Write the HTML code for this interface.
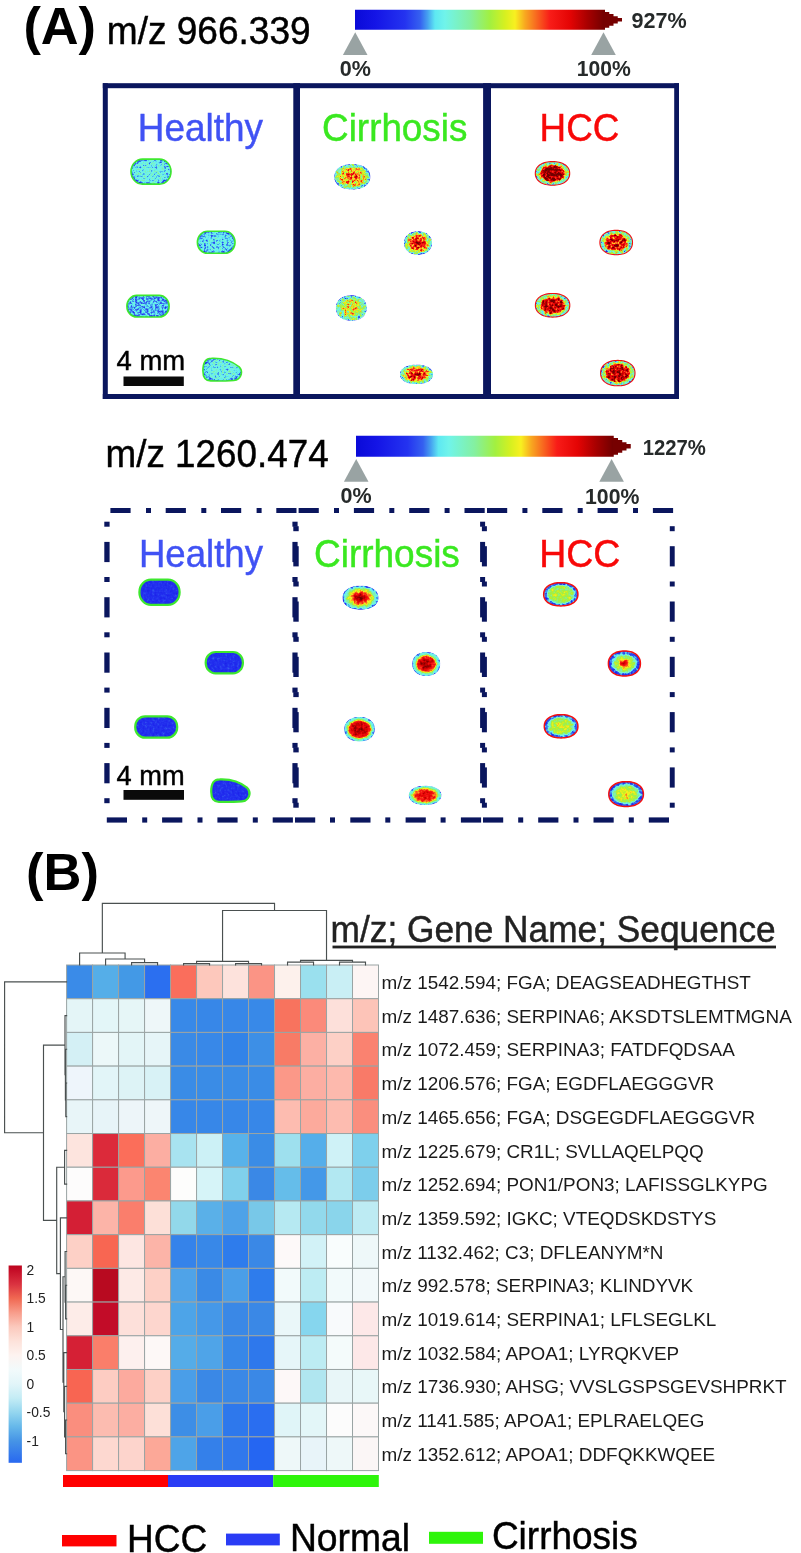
<!DOCTYPE html>
<html><head><meta charset="utf-8"><title>Figure</title>
<style>
html,body{margin:0;padding:0;background:#fff;}
body{width:801px;height:1553px;overflow:hidden;}
svg{display:block;}
text{font-family:"Liberation Sans", Arial, sans-serif;}
</style></head><body>
<svg width="801" height="1553" viewBox="0 0 801 1553">
<defs><linearGradient id="jet" x1="0" y1="0" x2="1" y2="0"><stop offset="0.0%" stop-color="#0a0ad8"/><stop offset="8.0%" stop-color="#1414e6"/><stop offset="20.0%" stop-color="#2433f0"/><stop offset="26.0%" stop-color="#3560f0"/><stop offset="29.0%" stop-color="#45a0f0"/><stop offset="32.0%" stop-color="#5ee8f2"/><stop offset="36.0%" stop-color="#70f4ea"/><stop offset="46.0%" stop-color="#84f0a0"/><stop offset="54.0%" stop-color="#a2f040"/><stop offset="60.0%" stop-color="#d6f020"/><stop offset="64.0%" stop-color="#f8f020"/><stop offset="68.0%" stop-color="#f8a820"/><stop offset="72.0%" stop-color="#f87020"/><stop offset="78.0%" stop-color="#f81c18"/><stop offset="86.0%" stop-color="#e40404"/><stop offset="93.0%" stop-color="#a80000"/><stop offset="100.0%" stop-color="#700000"/></linearGradient><linearGradient id="leg" x1="0" y1="0" x2="0" y2="1"><stop offset="0.0%" stop-color="#bc061e"/><stop offset="2.2%" stop-color="#c40c26"/><stop offset="9.4%" stop-color="#da3240"/><stop offset="16.6%" stop-color="#f06852"/><stop offset="23.8%" stop-color="#f89c8a"/><stop offset="31.1%" stop-color="#fbc9bd"/><stop offset="38.3%" stop-color="#fde2da"/><stop offset="45.5%" stop-color="#fdf3f0"/><stop offset="52.7%" stop-color="#f2fafb"/><stop offset="60.0%" stop-color="#e2f5f9"/><stop offset="67.2%" stop-color="#c4ecf5"/><stop offset="74.4%" stop-color="#94d6ef"/><stop offset="81.6%" stop-color="#66b8ea"/><stop offset="88.9%" stop-color="#4694e6"/><stop offset="100.0%" stop-color="#2868f0"/></linearGradient><filter id="fA" x="-10%" y="-10%" width="120%" height="120%" color-interpolation-filters="sRGB"><feTurbulence type="fractalNoise" baseFrequency="0.45" numOctaves="2" seed="11" result="t"/><feColorMatrix in="t" type="matrix" values="1 0 0 0 0 1 0 0 0 0 1 0 0 0 0 0 0 0 0 1" result="n"/><feComposite in="SourceGraphic" in2="n" operator="arithmetic" k1="0" k2="1" k3="0.34" k4="-0.170" result="v"/><feComponentTransfer in="v" result="c"><feFuncR type="table" tableValues="0.039 0.047 0.055 0.062 0.070 0.078 0.086 0.094 0.102 0.110 0.118 0.126 0.135 0.145 0.166 0.190 0.222 0.248 0.263 0.293 0.344 0.383 0.411 0.438 0.451 0.463 0.475 0.488 0.500 0.512 0.531 0.553 0.576 0.599 0.622 0.659 0.712 0.765 0.818 0.870 0.923 0.973 0.973 0.973 0.973 0.973 0.973 0.973 0.973 0.973 0.971 0.956 0.941 0.925 0.910 0.895 0.844 0.791 0.739 0.686 0.635 0.586 0.537 0.488 0.439"/><feFuncG type="table" tableValues="0.039 0.047 0.055 0.062 0.070 0.078 0.092 0.108 0.124 0.140 0.156 0.172 0.187 0.210 0.261 0.319 0.392 0.475 0.573 0.692 0.839 0.919 0.938 0.956 0.955 0.952 0.950 0.947 0.945 0.942 0.941 0.941 0.941 0.941 0.941 0.941 0.941 0.941 0.941 0.941 0.941 0.937 0.826 0.716 0.618 0.532 0.446 0.360 0.275 0.189 0.108 0.090 0.072 0.053 0.035 0.016 0.012 0.009 0.005 0.002 0.000 0.000 0.000 0.000 0.000"/><feFuncB type="table" tableValues="0.847 0.858 0.869 0.879 0.890 0.901 0.906 0.912 0.917 0.922 0.927 0.932 0.937 0.941 0.941 0.941 0.941 0.941 0.941 0.943 0.947 0.943 0.930 0.918 0.874 0.829 0.783 0.738 0.693 0.647 0.586 0.513 0.439 0.366 0.292 0.237 0.204 0.171 0.139 0.125 0.125 0.125 0.125 0.125 0.125 0.125 0.125 0.118 0.110 0.102 0.093 0.078 0.062 0.047 0.032 0.016 0.012 0.009 0.005 0.002 0.000 0.000 0.000 0.000 0.000"/><feFuncA type="identity"/></feComponentTransfer><feComposite in="c" in2="SourceAlpha" operator="in"/></filter><filter id="fB" x="-10%" y="-10%" width="120%" height="120%" color-interpolation-filters="sRGB"><feTurbulence type="fractalNoise" baseFrequency="0.38" numOctaves="2" seed="5" result="t"/><feColorMatrix in="t" type="matrix" values="1 0 0 0 0 1 0 0 0 0 1 0 0 0 0 0 0 0 0 1" result="n"/><feComposite in="SourceGraphic" in2="n" operator="arithmetic" k1="0" k2="1" k3="0.72" k4="-0.360" result="v"/><feComponentTransfer in="v" result="c"><feFuncR type="table" tableValues="0.039 0.047 0.055 0.062 0.070 0.078 0.086 0.094 0.102 0.110 0.118 0.126 0.135 0.145 0.166 0.190 0.222 0.248 0.263 0.293 0.344 0.383 0.411 0.438 0.451 0.463 0.475 0.488 0.500 0.512 0.531 0.553 0.576 0.599 0.622 0.659 0.712 0.765 0.818 0.870 0.923 0.973 0.973 0.973 0.973 0.973 0.973 0.973 0.973 0.973 0.971 0.956 0.941 0.925 0.910 0.895 0.844 0.791 0.739 0.686 0.635 0.586 0.537 0.488 0.439"/><feFuncG type="table" tableValues="0.039 0.047 0.055 0.062 0.070 0.078 0.092 0.108 0.124 0.140 0.156 0.172 0.187 0.210 0.261 0.319 0.392 0.475 0.573 0.692 0.839 0.919 0.938 0.956 0.955 0.952 0.950 0.947 0.945 0.942 0.941 0.941 0.941 0.941 0.941 0.941 0.941 0.941 0.941 0.941 0.941 0.937 0.826 0.716 0.618 0.532 0.446 0.360 0.275 0.189 0.108 0.090 0.072 0.053 0.035 0.016 0.012 0.009 0.005 0.002 0.000 0.000 0.000 0.000 0.000"/><feFuncB type="table" tableValues="0.847 0.858 0.869 0.879 0.890 0.901 0.906 0.912 0.917 0.922 0.927 0.932 0.937 0.941 0.941 0.941 0.941 0.941 0.941 0.943 0.947 0.943 0.930 0.918 0.874 0.829 0.783 0.738 0.693 0.647 0.586 0.513 0.439 0.366 0.292 0.237 0.204 0.171 0.139 0.125 0.125 0.125 0.125 0.125 0.125 0.125 0.125 0.118 0.110 0.102 0.093 0.078 0.062 0.047 0.032 0.016 0.012 0.009 0.005 0.002 0.000 0.000 0.000 0.000 0.000"/><feFuncA type="identity"/></feComponentTransfer><feComposite in="c" in2="SourceAlpha" operator="in"/></filter><filter id="fC" x="-10%" y="-10%" width="120%" height="120%" color-interpolation-filters="sRGB"><feTurbulence type="fractalNoise" baseFrequency="0.4" numOctaves="2" seed="3" result="t"/><feColorMatrix in="t" type="matrix" values="1 0 0 0 0 1 0 0 0 0 1 0 0 0 0 0 0 0 0 1" result="n"/><feComposite in="SourceGraphic" in2="n" operator="arithmetic" k1="0" k2="1" k3="0.15" k4="-0.075" result="v"/><feComponentTransfer in="v" result="c"><feFuncR type="table" tableValues="0.039 0.047 0.055 0.062 0.070 0.078 0.086 0.094 0.102 0.110 0.118 0.126 0.135 0.145 0.166 0.190 0.222 0.248 0.263 0.293 0.344 0.383 0.411 0.438 0.451 0.463 0.475 0.488 0.500 0.512 0.531 0.553 0.576 0.599 0.622 0.659 0.712 0.765 0.818 0.870 0.923 0.973 0.973 0.973 0.973 0.973 0.973 0.973 0.973 0.973 0.971 0.956 0.941 0.925 0.910 0.895 0.844 0.791 0.739 0.686 0.635 0.586 0.537 0.488 0.439"/><feFuncG type="table" tableValues="0.039 0.047 0.055 0.062 0.070 0.078 0.092 0.108 0.124 0.140 0.156 0.172 0.187 0.210 0.261 0.319 0.392 0.475 0.573 0.692 0.839 0.919 0.938 0.956 0.955 0.952 0.950 0.947 0.945 0.942 0.941 0.941 0.941 0.941 0.941 0.941 0.941 0.941 0.941 0.941 0.941 0.937 0.826 0.716 0.618 0.532 0.446 0.360 0.275 0.189 0.108 0.090 0.072 0.053 0.035 0.016 0.012 0.009 0.005 0.002 0.000 0.000 0.000 0.000 0.000"/><feFuncB type="table" tableValues="0.847 0.858 0.869 0.879 0.890 0.901 0.906 0.912 0.917 0.922 0.927 0.932 0.937 0.941 0.941 0.941 0.941 0.941 0.941 0.943 0.947 0.943 0.930 0.918 0.874 0.829 0.783 0.738 0.693 0.647 0.586 0.513 0.439 0.366 0.292 0.237 0.204 0.171 0.139 0.125 0.125 0.125 0.125 0.125 0.125 0.125 0.125 0.118 0.110 0.102 0.093 0.078 0.062 0.047 0.032 0.016 0.012 0.009 0.005 0.002 0.000 0.000 0.000 0.000 0.000"/><feFuncA type="identity"/></feComponentTransfer><feComposite in="c" in2="SourceAlpha" operator="in"/></filter><filter id="fD" x="-10%" y="-10%" width="120%" height="120%" color-interpolation-filters="sRGB"><feTurbulence type="fractalNoise" baseFrequency="0.35" numOctaves="2" seed="8" result="t"/><feColorMatrix in="t" type="matrix" values="1 0 0 0 0 1 0 0 0 0 1 0 0 0 0 0 0 0 0 1" result="n"/><feComposite in="SourceGraphic" in2="n" operator="arithmetic" k1="0" k2="1" k3="0.32" k4="-0.160" result="v"/><feComponentTransfer in="v" result="c"><feFuncR type="table" tableValues="0.039 0.047 0.055 0.062 0.070 0.078 0.086 0.094 0.102 0.110 0.118 0.126 0.135 0.145 0.166 0.190 0.222 0.248 0.263 0.293 0.344 0.383 0.411 0.438 0.451 0.463 0.475 0.488 0.500 0.512 0.531 0.553 0.576 0.599 0.622 0.659 0.712 0.765 0.818 0.870 0.923 0.973 0.973 0.973 0.973 0.973 0.973 0.973 0.973 0.973 0.971 0.956 0.941 0.925 0.910 0.895 0.844 0.791 0.739 0.686 0.635 0.586 0.537 0.488 0.439"/><feFuncG type="table" tableValues="0.039 0.047 0.055 0.062 0.070 0.078 0.092 0.108 0.124 0.140 0.156 0.172 0.187 0.210 0.261 0.319 0.392 0.475 0.573 0.692 0.839 0.919 0.938 0.956 0.955 0.952 0.950 0.947 0.945 0.942 0.941 0.941 0.941 0.941 0.941 0.941 0.941 0.941 0.941 0.941 0.941 0.937 0.826 0.716 0.618 0.532 0.446 0.360 0.275 0.189 0.108 0.090 0.072 0.053 0.035 0.016 0.012 0.009 0.005 0.002 0.000 0.000 0.000 0.000 0.000"/><feFuncB type="table" tableValues="0.847 0.858 0.869 0.879 0.890 0.901 0.906 0.912 0.917 0.922 0.927 0.932 0.937 0.941 0.941 0.941 0.941 0.941 0.941 0.943 0.947 0.943 0.930 0.918 0.874 0.829 0.783 0.738 0.693 0.647 0.586 0.513 0.439 0.366 0.292 0.237 0.204 0.171 0.139 0.125 0.125 0.125 0.125 0.125 0.125 0.125 0.125 0.118 0.110 0.102 0.093 0.078 0.062 0.047 0.032 0.016 0.012 0.009 0.005 0.002 0.000 0.000 0.000 0.000 0.000"/><feFuncA type="identity"/></feComponentTransfer><feComposite in="c" in2="SourceAlpha" operator="in"/></filter><radialGradient id="g1" cx="50%" cy="50%" r="50%"><stop offset="0%" stop-color="rgb(92,92,92)"/><stop offset="70%" stop-color="rgb(91,91,91)"/><stop offset="88%" stop-color="rgb(87,87,87)"/><stop offset="96%" stop-color="rgb(76,76,76)"/><stop offset="100%" stop-color="rgb(71,71,71)"/></radialGradient><radialGradient id="g2" cx="50%" cy="50%" r="50%"><stop offset="0%" stop-color="rgb(85,85,85)"/><stop offset="70%" stop-color="rgb(84,84,84)"/><stop offset="88%" stop-color="rgb(82,82,82)"/><stop offset="96%" stop-color="rgb(74,74,74)"/><stop offset="100%" stop-color="rgb(69,69,69)"/></radialGradient><radialGradient id="g3" cx="50%" cy="50%" r="50%"><stop offset="0%" stop-color="rgb(76,76,76)"/><stop offset="70%" stop-color="rgb(76,76,76)"/><stop offset="88%" stop-color="rgb(75,75,75)"/><stop offset="96%" stop-color="rgb(69,69,69)"/><stop offset="100%" stop-color="rgb(66,66,66)"/></radialGradient><radialGradient id="g4" cx="50%" cy="50%" r="50%"><stop offset="0%" stop-color="rgb(92,92,92)"/><stop offset="70%" stop-color="rgb(91,91,91)"/><stop offset="88%" stop-color="rgb(87,87,87)"/><stop offset="96%" stop-color="rgb(76,76,76)"/><stop offset="100%" stop-color="rgb(71,71,71)"/></radialGradient><radialGradient id="g5" cx="50%" cy="50%" r="50%"><stop offset="0%" stop-color="rgb(184,184,184)"/><stop offset="40%" stop-color="rgb(178,178,178)"/><stop offset="65%" stop-color="rgb(158,158,158)"/><stop offset="82%" stop-color="rgb(128,128,128)"/><stop offset="93%" stop-color="rgb(107,107,107)"/><stop offset="100%" stop-color="rgb(92,92,92)"/></radialGradient><radialGradient id="g6" cx="50%" cy="50%" r="50%"><stop offset="0%" stop-color="rgb(219,219,219)"/><stop offset="35%" stop-color="rgb(209,209,209)"/><stop offset="60%" stop-color="rgb(184,184,184)"/><stop offset="78%" stop-color="rgb(140,140,140)"/><stop offset="90%" stop-color="rgb(112,112,112)"/><stop offset="100%" stop-color="rgb(92,92,92)"/></radialGradient><radialGradient id="g7" cx="50%" cy="50%" r="50%"><stop offset="0%" stop-color="rgb(158,158,158)"/><stop offset="45%" stop-color="rgb(153,153,153)"/><stop offset="72%" stop-color="rgb(128,128,128)"/><stop offset="90%" stop-color="rgb(107,107,107)"/><stop offset="100%" stop-color="rgb(92,92,92)"/></radialGradient><radialGradient id="g8" cx="50%" cy="50%" r="50%"><stop offset="0%" stop-color="rgb(219,219,219)"/><stop offset="35%" stop-color="rgb(209,209,209)"/><stop offset="60%" stop-color="rgb(184,184,184)"/><stop offset="78%" stop-color="rgb(140,140,140)"/><stop offset="90%" stop-color="rgb(112,112,112)"/><stop offset="100%" stop-color="rgb(92,92,92)"/></radialGradient><radialGradient id="g9" cx="50%" cy="50%" r="50%"><stop offset="0%" stop-color="rgb(247,247,247)"/><stop offset="55%" stop-color="rgb(242,242,242)"/><stop offset="66%" stop-color="rgb(217,217,217)"/><stop offset="74%" stop-color="rgb(148,148,148)"/><stop offset="86%" stop-color="rgb(117,117,117)"/><stop offset="100%" stop-color="rgb(102,102,102)"/></radialGradient><radialGradient id="g10" cx="50%" cy="50%" r="50%"><stop offset="0%" stop-color="rgb(204,204,204)"/><stop offset="25%" stop-color="rgb(214,214,214)"/><stop offset="55%" stop-color="rgb(214,214,214)"/><stop offset="68%" stop-color="rgb(178,178,178)"/><stop offset="78%" stop-color="rgb(128,128,128)"/><stop offset="90%" stop-color="rgb(107,107,107)"/><stop offset="100%" stop-color="rgb(97,97,97)"/></radialGradient><radialGradient id="g11" cx="50%" cy="50%" r="50%"><stop offset="0%" stop-color="rgb(230,230,230)"/><stop offset="55%" stop-color="rgb(224,224,224)"/><stop offset="68%" stop-color="rgb(199,199,199)"/><stop offset="76%" stop-color="rgb(140,140,140)"/><stop offset="90%" stop-color="rgb(112,112,112)"/><stop offset="100%" stop-color="rgb(97,97,97)"/></radialGradient><radialGradient id="g12" cx="50%" cy="50%" r="50%"><stop offset="0%" stop-color="rgb(230,230,230)"/><stop offset="55%" stop-color="rgb(224,224,224)"/><stop offset="68%" stop-color="rgb(199,199,199)"/><stop offset="76%" stop-color="rgb(140,140,140)"/><stop offset="90%" stop-color="rgb(112,112,112)"/><stop offset="100%" stop-color="rgb(97,97,97)"/></radialGradient><radialGradient id="g13" cx="50%" cy="50%" r="50%"><stop offset="0%" stop-color="rgb(48,48,48)"/><stop offset="85%" stop-color="rgb(48,48,48)"/><stop offset="100%" stop-color="rgb(46,46,46)"/></radialGradient><radialGradient id="g14" cx="50%" cy="50%" r="50%"><stop offset="0%" stop-color="rgb(48,48,48)"/><stop offset="85%" stop-color="rgb(48,48,48)"/><stop offset="100%" stop-color="rgb(46,46,46)"/></radialGradient><radialGradient id="g15" cx="50%" cy="50%" r="50%"><stop offset="0%" stop-color="rgb(48,48,48)"/><stop offset="85%" stop-color="rgb(48,48,48)"/><stop offset="100%" stop-color="rgb(46,46,46)"/></radialGradient><radialGradient id="g16" cx="50%" cy="50%" r="50%"><stop offset="0%" stop-color="rgb(48,48,48)"/><stop offset="85%" stop-color="rgb(48,48,48)"/><stop offset="100%" stop-color="rgb(46,46,46)"/></radialGradient><radialGradient id="g17" cx="50%" cy="50%" r="50%"><stop offset="0%" stop-color="rgb(245,245,245)"/><stop offset="25%" stop-color="rgb(230,230,230)"/><stop offset="45%" stop-color="rgb(189,189,189)"/><stop offset="62%" stop-color="rgb(158,158,158)"/><stop offset="75%" stop-color="rgb(128,128,128)"/><stop offset="86%" stop-color="rgb(97,97,97)"/><stop offset="95%" stop-color="rgb(76,76,76)"/><stop offset="100%" stop-color="rgb(66,66,66)"/></radialGradient><radialGradient id="g18" cx="50%" cy="50%" r="50%"><stop offset="0%" stop-color="rgb(240,240,240)"/><stop offset="40%" stop-color="rgb(224,224,224)"/><stop offset="60%" stop-color="rgb(199,199,199)"/><stop offset="72%" stop-color="rgb(153,153,153)"/><stop offset="82%" stop-color="rgb(107,107,107)"/><stop offset="92%" stop-color="rgb(92,92,92)"/><stop offset="100%" stop-color="rgb(76,76,76)"/></radialGradient><radialGradient id="g19" cx="50%" cy="50%" r="50%"><stop offset="0%" stop-color="rgb(235,235,235)"/><stop offset="50%" stop-color="rgb(224,224,224)"/><stop offset="68%" stop-color="rgb(194,194,194)"/><stop offset="78%" stop-color="rgb(143,143,143)"/><stop offset="86%" stop-color="rgb(102,102,102)"/><stop offset="95%" stop-color="rgb(87,87,87)"/><stop offset="100%" stop-color="rgb(76,76,76)"/></radialGradient><radialGradient id="g20" cx="50%" cy="50%" r="50%"><stop offset="0%" stop-color="rgb(219,219,219)"/><stop offset="50%" stop-color="rgb(204,204,204)"/><stop offset="70%" stop-color="rgb(173,173,173)"/><stop offset="82%" stop-color="rgb(122,122,122)"/><stop offset="92%" stop-color="rgb(97,97,97)"/><stop offset="100%" stop-color="rgb(82,82,82)"/></radialGradient><radialGradient id="g21" cx="50%" cy="50%" r="50%"><stop offset="0%" stop-color="rgb(140,140,140)"/><stop offset="60%" stop-color="rgb(138,138,138)"/><stop offset="74%" stop-color="rgb(122,122,122)"/><stop offset="80%" stop-color="rgb(92,92,92)"/><stop offset="86%" stop-color="rgb(66,66,66)"/><stop offset="96%" stop-color="rgb(61,61,61)"/><stop offset="100%" stop-color="rgb(76,76,76)"/></radialGradient><radialGradient id="g22" cx="50%" cy="50%" r="50%"><stop offset="0%" stop-color="rgb(235,235,235)"/><stop offset="15%" stop-color="rgb(209,209,209)"/><stop offset="30%" stop-color="rgb(168,168,168)"/><stop offset="45%" stop-color="rgb(143,143,143)"/><stop offset="62%" stop-color="rgb(128,128,128)"/><stop offset="72%" stop-color="rgb(97,97,97)"/><stop offset="80%" stop-color="rgb(66,66,66)"/><stop offset="95%" stop-color="rgb(56,56,56)"/><stop offset="100%" stop-color="rgb(71,71,71)"/></radialGradient><radialGradient id="g23" cx="50%" cy="50%" r="50%"><stop offset="0%" stop-color="rgb(153,153,153)"/><stop offset="40%" stop-color="rgb(145,145,145)"/><stop offset="65%" stop-color="rgb(133,133,133)"/><stop offset="76%" stop-color="rgb(102,102,102)"/><stop offset="84%" stop-color="rgb(71,71,71)"/><stop offset="96%" stop-color="rgb(61,61,61)"/><stop offset="100%" stop-color="rgb(76,76,76)"/></radialGradient><radialGradient id="g24" cx="50%" cy="50%" r="50%"><stop offset="0%" stop-color="rgb(161,161,161)"/><stop offset="35%" stop-color="rgb(153,153,153)"/><stop offset="60%" stop-color="rgb(138,138,138)"/><stop offset="74%" stop-color="rgb(107,107,107)"/><stop offset="82%" stop-color="rgb(71,71,71)"/><stop offset="96%" stop-color="rgb(56,56,56)"/><stop offset="100%" stop-color="rgb(71,71,71)"/></radialGradient></defs>
<rect x="355.00" y="9.75" width="250.00" height="20.00" fill="url(#jet)"/><polygon points="604.00,12.00 609.25,12.00 609.25,14.00 613.50,14.00 613.50,16.25 617.75,16.25 617.75,18.00 622.00,18.00 622.00,21.50 617.75,21.50 617.75,23.50 613.50,23.50 613.50,25.75 609.25,25.75 609.25,27.75 604.00,27.75" fill="#760000"/><polygon points="355.2,32.2 342.9,55.0 367.5,55.0" fill="#99a3a3"/><polygon points="603.5,32.2 591.2,55.0 615.8,55.0" fill="#99a3a3"/>
<rect x="356.00" y="435.75" width="257.75" height="21.00" fill="url(#jet)"/><polygon points="612.75,438.00 618.00,438.00 618.00,440.00 622.25,440.00 622.25,442.25 626.50,442.25 626.50,444.00 630.75,444.00 630.75,448.50 626.50,448.50 626.50,450.50 622.25,450.50 622.25,452.75 618.00,452.75 618.00,454.75 612.75,454.75" fill="#760000"/><polygon points="356.2,459.0 343.9,481.8 368.5,481.8" fill="#99a3a3"/><polygon points="611.6,459.0 599.3,481.8 623.9,481.8" fill="#99a3a3"/>
<rect x="102.80" y="83.20" width="576.20" height="5.00" fill="#0a165e"/><rect x="102.80" y="394.00" width="576.20" height="5.00" fill="#0a165e"/><rect x="102.80" y="83.20" width="5.00" height="315.80" fill="#0a165e"/><rect x="674.20" y="83.20" width="4.80" height="315.80" fill="#0a165e"/><rect x="293.30" y="83.20" width="6.70" height="315.80" fill="#0a165e"/><rect x="483.10" y="83.20" width="7.90" height="315.80" fill="#0a165e"/>
<rect x="110.40" y="508.00" width="20.20" height="5.00" fill="#0a165e"/><rect x="165.70" y="508.00" width="20.20" height="5.00" fill="#0a165e"/><rect x="221.00" y="508.00" width="20.20" height="5.00" fill="#0a165e"/><rect x="276.30" y="508.00" width="20.20" height="5.00" fill="#0a165e"/><rect x="146.00" y="508.00" width="5.00" height="5.00" fill="#0a165e"/><rect x="201.30" y="508.00" width="5.00" height="5.00" fill="#0a165e"/><rect x="256.60" y="508.00" width="5.00" height="5.00" fill="#0a165e"/><rect x="298.60" y="508.00" width="20.20" height="5.00" fill="#0a165e"/><rect x="353.90" y="508.00" width="20.20" height="5.00" fill="#0a165e"/><rect x="409.20" y="508.00" width="20.20" height="5.00" fill="#0a165e"/><rect x="464.50" y="508.00" width="20.20" height="5.00" fill="#0a165e"/><rect x="334.00" y="508.00" width="5.00" height="5.00" fill="#0a165e"/><rect x="389.30" y="508.00" width="5.00" height="5.00" fill="#0a165e"/><rect x="444.60" y="508.00" width="5.00" height="5.00" fill="#0a165e"/><rect x="487.00" y="508.00" width="20.20" height="5.00" fill="#0a165e"/><rect x="542.30" y="508.00" width="20.20" height="5.00" fill="#0a165e"/><rect x="597.60" y="508.00" width="20.20" height="5.00" fill="#0a165e"/><rect x="652.90" y="508.00" width="20.20" height="5.00" fill="#0a165e"/><rect x="522.40" y="508.00" width="5.00" height="5.00" fill="#0a165e"/><rect x="577.70" y="508.00" width="5.00" height="5.00" fill="#0a165e"/><rect x="633.00" y="508.00" width="5.00" height="5.00" fill="#0a165e"/><rect x="106.80" y="817.40" width="20.20" height="5.20" fill="#0a165e"/><rect x="162.10" y="817.40" width="20.20" height="5.20" fill="#0a165e"/><rect x="217.40" y="817.40" width="20.20" height="5.20" fill="#0a165e"/><rect x="272.70" y="817.40" width="20.20" height="5.20" fill="#0a165e"/><rect x="142.20" y="817.40" width="5.00" height="5.20" fill="#0a165e"/><rect x="197.50" y="817.40" width="5.00" height="5.20" fill="#0a165e"/><rect x="252.80" y="817.40" width="5.00" height="5.20" fill="#0a165e"/><rect x="295.00" y="817.40" width="20.20" height="5.20" fill="#0a165e"/><rect x="350.30" y="817.40" width="20.20" height="5.20" fill="#0a165e"/><rect x="405.60" y="817.40" width="20.20" height="5.20" fill="#0a165e"/><rect x="460.90" y="817.40" width="20.20" height="5.20" fill="#0a165e"/><rect x="330.00" y="817.40" width="5.00" height="5.20" fill="#0a165e"/><rect x="385.30" y="817.40" width="5.00" height="5.20" fill="#0a165e"/><rect x="440.60" y="817.40" width="5.00" height="5.20" fill="#0a165e"/><rect x="483.00" y="817.40" width="20.20" height="5.20" fill="#0a165e"/><rect x="538.20" y="817.40" width="20.20" height="5.20" fill="#0a165e"/><rect x="593.50" y="817.40" width="20.20" height="5.20" fill="#0a165e"/><rect x="648.80" y="817.40" width="20.20" height="5.20" fill="#0a165e"/><rect x="518.20" y="817.40" width="5.00" height="5.20" fill="#0a165e"/><rect x="573.50" y="817.40" width="5.00" height="5.20" fill="#0a165e"/><rect x="628.80" y="817.40" width="5.00" height="5.20" fill="#0a165e"/><rect x="104.30" y="541.90" width="5.30" height="20.20" fill="#0a165e"/><rect x="104.30" y="597.20" width="5.30" height="20.20" fill="#0a165e"/><rect x="104.30" y="652.50" width="5.30" height="20.20" fill="#0a165e"/><rect x="104.30" y="707.80" width="5.30" height="20.20" fill="#0a165e"/><rect x="104.30" y="763.10" width="5.30" height="20.20" fill="#0a165e"/><rect x="104.30" y="521.70" width="5.30" height="5.00" fill="#0a165e"/><rect x="104.30" y="577.00" width="5.30" height="5.00" fill="#0a165e"/><rect x="104.30" y="632.30" width="5.30" height="5.00" fill="#0a165e"/><rect x="104.30" y="687.60" width="5.30" height="5.00" fill="#0a165e"/><rect x="104.30" y="742.90" width="5.30" height="5.00" fill="#0a165e"/><rect x="104.30" y="798.20" width="5.30" height="5.00" fill="#0a165e"/><rect x="292.40" y="541.90" width="5.20" height="20.20" fill="#0a165e"/><rect x="292.40" y="597.20" width="5.20" height="20.20" fill="#0a165e"/><rect x="292.40" y="652.50" width="5.20" height="20.20" fill="#0a165e"/><rect x="292.40" y="707.80" width="5.20" height="20.20" fill="#0a165e"/><rect x="292.40" y="763.10" width="5.20" height="20.20" fill="#0a165e"/><rect x="292.40" y="521.70" width="5.20" height="5.00" fill="#0a165e"/><rect x="292.40" y="577.00" width="5.20" height="5.00" fill="#0a165e"/><rect x="292.40" y="632.30" width="5.20" height="5.00" fill="#0a165e"/><rect x="292.40" y="687.60" width="5.20" height="5.00" fill="#0a165e"/><rect x="292.40" y="742.90" width="5.20" height="5.00" fill="#0a165e"/><rect x="292.40" y="798.20" width="5.20" height="5.00" fill="#0a165e"/><rect x="293.30" y="546.20" width="5.40" height="20.20" fill="#0a165e"/><rect x="293.30" y="601.50" width="5.40" height="20.20" fill="#0a165e"/><rect x="293.30" y="656.80" width="5.40" height="20.20" fill="#0a165e"/><rect x="293.30" y="712.10" width="5.40" height="20.20" fill="#0a165e"/><rect x="293.30" y="767.40" width="5.40" height="20.20" fill="#0a165e"/><rect x="293.30" y="526.20" width="5.40" height="5.00" fill="#0a165e"/><rect x="293.30" y="581.50" width="5.40" height="5.00" fill="#0a165e"/><rect x="293.30" y="636.80" width="5.40" height="5.00" fill="#0a165e"/><rect x="293.30" y="692.10" width="5.40" height="5.00" fill="#0a165e"/><rect x="293.30" y="747.40" width="5.40" height="5.00" fill="#0a165e"/><rect x="293.30" y="802.70" width="5.40" height="5.00" fill="#0a165e"/><rect x="480.10" y="541.90" width="5.00" height="20.20" fill="#0a165e"/><rect x="480.10" y="597.20" width="5.00" height="20.20" fill="#0a165e"/><rect x="480.10" y="652.50" width="5.00" height="20.20" fill="#0a165e"/><rect x="480.10" y="707.80" width="5.00" height="20.20" fill="#0a165e"/><rect x="480.10" y="763.10" width="5.00" height="20.20" fill="#0a165e"/><rect x="480.10" y="521.70" width="5.00" height="5.00" fill="#0a165e"/><rect x="480.10" y="577.00" width="5.00" height="5.00" fill="#0a165e"/><rect x="480.10" y="632.30" width="5.00" height="5.00" fill="#0a165e"/><rect x="480.10" y="687.60" width="5.00" height="5.00" fill="#0a165e"/><rect x="480.10" y="742.90" width="5.00" height="5.00" fill="#0a165e"/><rect x="480.10" y="798.20" width="5.00" height="5.00" fill="#0a165e"/><rect x="481.90" y="546.20" width="5.00" height="20.20" fill="#0a165e"/><rect x="481.90" y="601.50" width="5.00" height="20.20" fill="#0a165e"/><rect x="481.90" y="656.80" width="5.00" height="20.20" fill="#0a165e"/><rect x="481.90" y="712.10" width="5.00" height="20.20" fill="#0a165e"/><rect x="481.90" y="767.40" width="5.00" height="20.20" fill="#0a165e"/><rect x="481.90" y="526.20" width="5.00" height="5.00" fill="#0a165e"/><rect x="481.90" y="581.50" width="5.00" height="5.00" fill="#0a165e"/><rect x="481.90" y="636.80" width="5.00" height="5.00" fill="#0a165e"/><rect x="481.90" y="692.10" width="5.00" height="5.00" fill="#0a165e"/><rect x="481.90" y="747.40" width="5.00" height="5.00" fill="#0a165e"/><rect x="481.90" y="802.70" width="5.00" height="5.00" fill="#0a165e"/><rect x="669.80" y="546.20" width="4.90" height="20.20" fill="#0a165e"/><rect x="669.80" y="601.50" width="4.90" height="20.20" fill="#0a165e"/><rect x="669.80" y="656.80" width="4.90" height="20.20" fill="#0a165e"/><rect x="669.80" y="712.10" width="4.90" height="20.20" fill="#0a165e"/><rect x="669.80" y="767.40" width="4.90" height="20.20" fill="#0a165e"/><rect x="669.80" y="526.20" width="4.90" height="5.00" fill="#0a165e"/><rect x="669.80" y="581.50" width="4.90" height="5.00" fill="#0a165e"/><rect x="669.80" y="636.80" width="4.90" height="5.00" fill="#0a165e"/><rect x="669.80" y="692.10" width="4.90" height="5.00" fill="#0a165e"/><rect x="669.80" y="747.40" width="4.90" height="5.00" fill="#0a165e"/><rect x="669.80" y="802.70" width="4.90" height="5.00" fill="#0a165e"/>
<rect x="123.50" y="376.50" width="60.30" height="9.50" fill="#0a0a0a"/>
<rect x="123.50" y="790.00" width="60.50" height="9.80" fill="#0a0a0a"/>
<rect x="131.00" y="159.10" width="40.00" height="25.00" rx="11.50" ry="12.25" fill="url(#g1)" filter="url(#fA)"/>
<rect x="131.00" y="159.10" width="40.00" height="25.00" rx="11.50" ry="12.25" fill="none" stroke="#3ee82e" stroke-width="1.6"/>
<rect x="197.40" y="231.30" width="37.60" height="22.00" rx="10.12" ry="10.78" fill="url(#g2)" filter="url(#fA)"/>
<rect x="197.40" y="231.30" width="37.60" height="22.00" rx="10.12" ry="10.78" fill="none" stroke="#3ee82e" stroke-width="1.6"/>
<rect x="126.90" y="295.40" width="42.20" height="21.60" rx="9.94" ry="10.58" fill="url(#g3)" filter="url(#fA)"/>
<rect x="126.90" y="295.40" width="42.20" height="21.60" rx="9.94" ry="10.58" fill="none" stroke="#3ee82e" stroke-width="1.6"/>
<path d="M211.48,358.30 C222.40,357.85 232.15,361.01 239.17,366.89 C243.07,370.73 241.90,377.51 236.44,380.00 C230.20,381.35 220.45,380.90 210.70,380.90 C205.24,380.90 202.90,377.51 202.90,370.73 C202.90,362.82 204.85,358.30 211.48,358.30Z" fill="url(#g4)" filter="url(#fA)"/>
<path d="M211.48,358.30 C222.40,357.85 232.15,361.01 239.17,366.89 C243.07,370.73 241.90,377.51 236.44,380.00 C230.20,381.35 220.45,380.90 210.70,380.90 C205.24,380.90 202.90,377.51 202.90,370.73 C202.90,362.82 204.85,358.30 211.48,358.30Z" fill="none" stroke="#3ee82e" stroke-width="1.6"/>
<polygon points="370.30,176.80 370.24,178.18 370.05,179.39 369.74,180.52 369.31,181.59 368.76,182.60 368.09,183.56 367.31,184.46 366.43,185.30 365.44,186.07 364.34,186.77 363.16,187.39 361.89,187.94 360.53,188.41 359.09,188.80 357.57,189.11 355.96,189.32 354.26,189.46 352.30,189.50 350.34,189.46 348.64,189.32 347.03,189.11 345.51,188.80 344.07,188.41 342.71,187.94 341.44,187.39 340.26,186.77 339.16,186.07 338.17,185.30 337.29,184.46 336.51,183.56 335.84,182.60 335.29,181.59 334.86,180.52 334.55,179.39 334.36,178.18 334.30,176.80 334.36,175.42 334.55,174.21 334.86,173.08 335.29,172.01 335.84,171.00 336.51,170.04 337.29,169.14 338.17,168.30 339.16,167.53 340.26,166.83 341.44,166.21 342.71,165.66 344.07,165.19 345.51,164.80 347.03,164.49 348.64,164.28 350.34,164.14 352.30,164.10 354.26,164.14 355.96,164.28 357.57,164.49 359.09,164.80 360.53,165.19 361.89,165.66 363.16,166.21 364.34,166.83 365.44,167.53 366.43,168.30 367.31,169.14 368.09,170.04 368.76,171.00 369.31,172.01 369.74,173.08 370.05,174.21 370.24,175.42" fill="url(#g5)" filter="url(#fB)"/>
<polygon points="431.90,243.00 431.85,244.27 431.71,245.38 431.47,246.42 431.14,247.41 430.71,248.35 430.20,249.23 429.59,250.06 428.91,250.83 428.14,251.54 427.30,252.18 426.39,252.76 425.40,253.27 424.35,253.70 423.24,254.06 422.07,254.34 420.83,254.54 419.51,254.66 418.00,254.70 416.49,254.66 415.17,254.54 413.93,254.34 412.76,254.06 411.65,253.70 410.60,253.27 409.61,252.76 408.70,252.18 407.86,251.54 407.09,250.83 406.41,250.06 405.80,249.23 405.29,248.35 404.86,247.41 404.53,246.42 404.29,245.38 404.15,244.27 404.10,243.00 404.15,241.73 404.29,240.62 404.53,239.58 404.86,238.59 405.29,237.65 405.80,236.77 406.41,235.94 407.09,235.17 407.86,234.46 408.70,233.82 409.61,233.24 410.60,232.73 411.65,232.30 412.76,231.94 413.93,231.66 415.17,231.46 416.49,231.34 418.00,231.30 419.51,231.34 420.83,231.46 422.07,231.66 423.24,231.94 424.35,232.30 425.40,232.73 426.39,233.24 427.30,233.82 428.14,234.46 428.91,235.17 429.59,235.94 430.20,236.77 430.71,237.65 431.14,238.59 431.47,239.58 431.71,240.62 431.85,241.73" fill="url(#g6)" filter="url(#fB)"/>
<polygon points="366.70,308.00 366.65,309.38 366.49,310.59 366.22,311.72 365.85,312.79 365.38,313.80 364.81,314.76 364.15,315.66 363.39,316.50 362.54,317.27 361.60,317.97 360.59,318.59 359.50,319.14 358.34,319.61 357.11,320.00 355.81,320.31 354.44,320.52 352.98,320.66 351.30,320.70 349.62,320.66 348.16,320.52 346.79,320.31 345.49,320.00 344.26,319.61 343.10,319.14 342.01,318.59 341.00,317.97 340.06,317.27 339.21,316.50 338.45,315.66 337.79,314.76 337.22,313.80 336.75,312.79 336.38,311.72 336.11,310.59 335.95,309.38 335.90,308.00 335.95,306.62 336.11,305.41 336.38,304.28 336.75,303.21 337.22,302.20 337.79,301.24 338.45,300.34 339.21,299.50 340.06,298.73 341.00,298.03 342.01,297.41 343.10,296.86 344.26,296.39 345.49,296.00 346.79,295.69 348.16,295.48 349.62,295.34 351.30,295.30 352.98,295.34 354.44,295.48 355.81,295.69 357.11,296.00 358.34,296.39 359.50,296.86 360.59,297.41 361.60,298.03 362.54,298.73 363.39,299.50 364.15,300.34 364.81,301.24 365.38,302.20 365.85,303.21 366.22,304.28 366.49,305.41 366.65,306.62" fill="url(#g7)" filter="url(#fB)"/>
<polygon points="433.00,374.40 432.94,375.46 432.77,376.37 432.49,377.24 432.09,378.06 431.59,378.83 430.98,379.57 430.26,380.25 429.45,380.89 428.54,381.48 427.54,382.01 426.45,382.49 425.29,382.91 424.04,383.27 422.72,383.57 421.33,383.80 419.86,383.97 418.30,384.07 416.50,384.10 414.70,384.07 413.14,383.97 411.67,383.80 410.28,383.57 408.96,383.27 407.71,382.91 406.55,382.49 405.46,382.01 404.46,381.48 403.55,380.89 402.74,380.25 402.02,379.57 401.41,378.83 400.91,378.06 400.51,377.24 400.23,376.37 400.06,375.46 400.00,374.40 400.06,373.34 400.23,372.43 400.51,371.56 400.91,370.74 401.41,369.97 402.02,369.23 402.74,368.55 403.55,367.91 404.46,367.32 405.46,366.79 406.55,366.31 407.71,365.89 408.96,365.53 410.28,365.23 411.67,365.00 413.14,364.83 414.70,364.73 416.50,364.70 418.30,364.73 419.86,364.83 421.33,365.00 422.72,365.23 424.04,365.53 425.29,365.89 426.45,366.31 427.54,366.79 428.54,367.32 429.45,367.91 430.26,368.55 430.98,369.23 431.59,369.97 432.09,370.74 432.49,371.56 432.77,372.43 432.94,373.34" fill="url(#g8)" filter="url(#fB)"/>
<polygon points="569.70,173.40 569.64,174.68 569.46,175.80 569.17,176.85 568.75,177.85 568.23,178.79 567.59,179.68 566.85,180.52 566.00,181.30 565.05,182.01 564.01,182.66 562.88,183.24 561.66,183.75 560.36,184.19 558.99,184.55 557.53,184.83 556.00,185.04 554.37,185.16 552.50,185.20 550.63,185.16 549.00,185.04 547.47,184.83 546.01,184.55 544.64,184.19 543.34,183.75 542.12,183.24 540.99,182.66 539.95,182.01 539.00,181.30 538.15,180.52 537.41,179.68 536.77,178.79 536.25,177.85 535.83,176.85 535.54,175.80 535.36,174.68 535.30,173.40 535.36,172.12 535.54,171.00 535.83,169.95 536.25,168.95 536.77,168.01 537.41,167.12 538.15,166.28 539.00,165.50 539.95,164.79 540.99,164.14 542.12,163.56 543.34,163.05 544.64,162.61 546.01,162.25 547.47,161.97 549.00,161.76 550.63,161.64 552.50,161.60 554.37,161.64 556.00,161.76 557.53,161.97 558.99,162.25 560.36,162.61 561.66,163.05 562.88,163.56 564.01,164.14 565.05,164.79 566.00,165.50 566.85,166.28 567.59,167.12 568.23,168.01 568.75,168.95 569.17,169.95 569.46,171.00 569.64,172.12" fill="url(#g9)" filter="url(#fB)"/>
<polygon points="569.70,173.40 569.64,174.68 569.46,175.80 569.17,176.85 568.75,177.85 568.23,178.79 567.59,179.68 566.85,180.52 566.00,181.30 565.05,182.01 564.01,182.66 562.88,183.24 561.66,183.75 560.36,184.19 558.99,184.55 557.53,184.83 556.00,185.04 554.37,185.16 552.50,185.20 550.63,185.16 549.00,185.04 547.47,184.83 546.01,184.55 544.64,184.19 543.34,183.75 542.12,183.24 540.99,182.66 539.95,182.01 539.00,181.30 538.15,180.52 537.41,179.68 536.77,178.79 536.25,177.85 535.83,176.85 535.54,175.80 535.36,174.68 535.30,173.40 535.36,172.12 535.54,171.00 535.83,169.95 536.25,168.95 536.77,168.01 537.41,167.12 538.15,166.28 539.00,165.50 539.95,164.79 540.99,164.14 542.12,163.56 543.34,163.05 544.64,162.61 546.01,162.25 547.47,161.97 549.00,161.76 550.63,161.64 552.50,161.60 554.37,161.64 556.00,161.76 557.53,161.97 558.99,162.25 560.36,162.61 561.66,163.05 562.88,163.56 564.01,164.14 565.05,164.79 566.00,165.50 566.85,166.28 567.59,167.12 568.23,168.01 568.75,168.95 569.17,169.95 569.46,171.00 569.64,172.12" fill="none" stroke="#f41010" stroke-width="1.1"/>
<polygon points="632.50,242.50 632.44,243.83 632.27,244.98 631.99,246.07 631.60,247.10 631.11,248.08 630.50,249.00 629.80,249.86 628.99,250.66 628.09,251.40 627.11,252.07 626.03,252.68 624.88,253.20 623.65,253.66 622.35,254.03 620.97,254.32 619.52,254.53 617.97,254.66 616.20,254.70 614.43,254.66 612.88,254.53 611.43,254.32 610.05,254.03 608.75,253.66 607.52,253.20 606.37,252.68 605.29,252.07 604.31,251.40 603.41,250.66 602.60,249.86 601.90,249.00 601.29,248.08 600.80,247.10 600.41,246.07 600.13,244.98 599.96,243.83 599.90,242.50 599.96,241.17 600.13,240.02 600.41,238.93 600.80,237.90 601.29,236.92 601.90,236.00 602.60,235.14 603.41,234.34 604.31,233.60 605.29,232.93 606.37,232.32 607.52,231.80 608.75,231.34 610.05,230.97 611.43,230.68 612.88,230.47 614.43,230.34 616.20,230.30 617.97,230.34 619.52,230.47 620.97,230.68 622.35,230.97 623.65,231.34 624.88,231.80 626.03,232.32 627.11,232.93 628.09,233.60 628.99,234.34 629.80,235.14 630.50,236.00 631.11,236.92 631.60,237.90 631.99,238.93 632.27,240.02 632.44,241.17" fill="url(#g10)" filter="url(#fB)"/>
<polygon points="632.50,242.50 632.44,243.83 632.27,244.98 631.99,246.07 631.60,247.10 631.11,248.08 630.50,249.00 629.80,249.86 628.99,250.66 628.09,251.40 627.11,252.07 626.03,252.68 624.88,253.20 623.65,253.66 622.35,254.03 620.97,254.32 619.52,254.53 617.97,254.66 616.20,254.70 614.43,254.66 612.88,254.53 611.43,254.32 610.05,254.03 608.75,253.66 607.52,253.20 606.37,252.68 605.29,252.07 604.31,251.40 603.41,250.66 602.60,249.86 601.90,249.00 601.29,248.08 600.80,247.10 600.41,246.07 600.13,244.98 599.96,243.83 599.90,242.50 599.96,241.17 600.13,240.02 600.41,238.93 600.80,237.90 601.29,236.92 601.90,236.00 602.60,235.14 603.41,234.34 604.31,233.60 605.29,232.93 606.37,232.32 607.52,231.80 608.75,231.34 610.05,230.97 611.43,230.68 612.88,230.47 614.43,230.34 616.20,230.30 617.97,230.34 619.52,230.47 620.97,230.68 622.35,230.97 623.65,231.34 624.88,231.80 626.03,232.32 627.11,232.93 628.09,233.60 628.99,234.34 629.80,235.14 630.50,236.00 631.11,236.92 631.60,237.90 631.99,238.93 632.27,240.02 632.44,241.17" fill="none" stroke="#f41010" stroke-width="1.1"/>
<polygon points="569.80,305.30 569.74,306.58 569.56,307.70 569.27,308.75 568.85,309.75 568.33,310.69 567.69,311.58 566.95,312.42 566.10,313.20 565.15,313.91 564.11,314.56 562.98,315.14 561.76,315.65 560.46,316.09 559.09,316.45 557.63,316.73 556.10,316.94 554.47,317.06 552.60,317.10 550.73,317.06 549.10,316.94 547.57,316.73 546.11,316.45 544.74,316.09 543.44,315.65 542.22,315.14 541.09,314.56 540.05,313.91 539.10,313.20 538.25,312.42 537.51,311.58 536.87,310.69 536.35,309.75 535.93,308.75 535.64,307.70 535.46,306.58 535.40,305.30 535.46,304.02 535.64,302.90 535.93,301.85 536.35,300.85 536.87,299.91 537.51,299.02 538.25,298.18 539.10,297.40 540.05,296.69 541.09,296.04 542.22,295.46 543.44,294.95 544.74,294.51 546.11,294.15 547.57,293.87 549.10,293.66 550.73,293.54 552.60,293.50 554.47,293.54 556.10,293.66 557.63,293.87 559.09,294.15 560.46,294.51 561.76,294.95 562.98,295.46 564.11,296.04 565.15,296.69 566.10,297.40 566.95,298.18 567.69,299.02 568.33,299.91 568.85,300.85 569.27,301.85 569.56,302.90 569.74,304.02" fill="url(#g11)" filter="url(#fB)"/>
<polygon points="569.80,305.30 569.74,306.58 569.56,307.70 569.27,308.75 568.85,309.75 568.33,310.69 567.69,311.58 566.95,312.42 566.10,313.20 565.15,313.91 564.11,314.56 562.98,315.14 561.76,315.65 560.46,316.09 559.09,316.45 557.63,316.73 556.10,316.94 554.47,317.06 552.60,317.10 550.73,317.06 549.10,316.94 547.57,316.73 546.11,316.45 544.74,316.09 543.44,315.65 542.22,315.14 541.09,314.56 540.05,313.91 539.10,313.20 538.25,312.42 537.51,311.58 536.87,310.69 536.35,309.75 535.93,308.75 535.64,307.70 535.46,306.58 535.40,305.30 535.46,304.02 535.64,302.90 535.93,301.85 536.35,300.85 536.87,299.91 537.51,299.02 538.25,298.18 539.10,297.40 540.05,296.69 541.09,296.04 542.22,295.46 543.44,294.95 544.74,294.51 546.11,294.15 547.57,293.87 549.10,293.66 550.73,293.54 552.60,293.50 554.47,293.54 556.10,293.66 557.63,293.87 559.09,294.15 560.46,294.51 561.76,294.95 562.98,295.46 564.11,296.04 565.15,296.69 566.10,297.40 566.95,298.18 567.69,299.02 568.33,299.91 568.85,300.85 569.27,301.85 569.56,302.90 569.74,304.02" fill="none" stroke="#f41010" stroke-width="1.1"/>
<polygon points="635.00,373.10 634.94,374.48 634.76,375.69 634.47,376.82 634.05,377.89 633.53,378.90 632.89,379.86 632.15,380.76 631.30,381.60 630.35,382.37 629.31,383.07 628.18,383.69 626.96,384.24 625.66,384.71 624.29,385.10 622.83,385.41 621.30,385.62 619.67,385.76 617.80,385.80 615.93,385.76 614.30,385.62 612.77,385.41 611.31,385.10 609.94,384.71 608.64,384.24 607.42,383.69 606.29,383.07 605.25,382.37 604.30,381.60 603.45,380.76 602.71,379.86 602.07,378.90 601.55,377.89 601.13,376.82 600.84,375.69 600.66,374.48 600.60,373.10 600.66,371.72 600.84,370.51 601.13,369.38 601.55,368.31 602.07,367.30 602.71,366.34 603.45,365.44 604.30,364.60 605.25,363.83 606.29,363.13 607.42,362.51 608.64,361.96 609.94,361.49 611.31,361.10 612.77,360.79 614.30,360.58 615.93,360.44 617.80,360.40 619.67,360.44 621.30,360.58 622.83,360.79 624.29,361.10 625.66,361.49 626.96,361.96 628.18,362.51 629.31,363.13 630.35,363.83 631.30,364.60 632.15,365.44 632.89,366.34 633.53,367.30 634.05,368.31 634.47,369.38 634.76,370.51 634.94,371.72" fill="url(#g12)" filter="url(#fB)"/>
<polygon points="635.00,373.10 634.94,374.48 634.76,375.69 634.47,376.82 634.05,377.89 633.53,378.90 632.89,379.86 632.15,380.76 631.30,381.60 630.35,382.37 629.31,383.07 628.18,383.69 626.96,384.24 625.66,384.71 624.29,385.10 622.83,385.41 621.30,385.62 619.67,385.76 617.80,385.80 615.93,385.76 614.30,385.62 612.77,385.41 611.31,385.10 609.94,384.71 608.64,384.24 607.42,383.69 606.29,383.07 605.25,382.37 604.30,381.60 603.45,380.76 602.71,379.86 602.07,378.90 601.55,377.89 601.13,376.82 600.84,375.69 600.66,374.48 600.60,373.10 600.66,371.72 600.84,370.51 601.13,369.38 601.55,368.31 602.07,367.30 602.71,366.34 603.45,365.44 604.30,364.60 605.25,363.83 606.29,363.13 607.42,362.51 608.64,361.96 609.94,361.49 611.31,361.10 612.77,360.79 614.30,360.58 615.93,360.44 617.80,360.40 619.67,360.44 621.30,360.58 622.83,360.79 624.29,361.10 625.66,361.49 626.96,361.96 628.18,362.51 629.31,363.13 630.35,363.83 631.30,364.60 632.15,365.44 632.89,366.34 633.53,367.30 634.05,368.31 634.47,369.38 634.76,370.51 634.94,371.72" fill="none" stroke="#f41010" stroke-width="1.1"/>
<rect x="139.40" y="579.60" width="40.20" height="25.20" rx="11.59" ry="12.35" fill="url(#g13)" filter="url(#fC)"/>
<rect x="139.40" y="579.60" width="40.20" height="25.20" rx="11.59" ry="12.35" fill="none" stroke="#3ee82e" stroke-width="2.2"/>
<rect x="205.70" y="652.00" width="37.20" height="21.40" rx="9.84" ry="10.49" fill="url(#g14)" filter="url(#fC)"/>
<rect x="205.70" y="652.00" width="37.20" height="21.40" rx="9.84" ry="10.49" fill="none" stroke="#3ee82e" stroke-width="2.2"/>
<rect x="135.20" y="716.30" width="42.00" height="21.40" rx="9.84" ry="10.49" fill="url(#g15)" filter="url(#fC)"/>
<rect x="135.20" y="716.30" width="42.00" height="21.40" rx="9.84" ry="10.49" fill="none" stroke="#3ee82e" stroke-width="2.2"/>
<path d="M219.74,779.40 C230.60,778.95 240.30,782.09 247.28,787.91 C251.16,791.72 250.00,798.44 244.57,800.90 C238.36,802.25 228.66,801.80 218.96,801.80 C213.53,801.80 211.20,798.44 211.20,791.72 C211.20,783.88 213.14,779.40 219.74,779.40Z" fill="url(#g16)" filter="url(#fC)"/>
<path d="M219.74,779.40 C230.60,778.95 240.30,782.09 247.28,787.91 C251.16,791.72 250.00,798.44 244.57,800.90 C238.36,802.25 228.66,801.80 218.96,801.80 C213.53,801.80 211.20,798.44 211.20,791.72 C211.20,783.88 213.14,779.40 219.74,779.40Z" fill="none" stroke="#3ee82e" stroke-width="2.2"/>
<polygon points="378.50,597.70 378.44,599.01 378.25,600.14 377.94,601.21 377.51,602.22 376.96,603.18 376.29,604.09 375.51,604.94 374.63,605.73 373.64,606.46 372.54,607.12 371.36,607.71 370.09,608.23 368.73,608.67 367.29,609.04 365.77,609.33 364.16,609.53 362.46,609.66 360.50,609.70 358.54,609.66 356.84,609.53 355.23,609.33 353.71,609.04 352.27,608.67 350.91,608.23 349.64,607.71 348.46,607.12 347.36,606.46 346.37,605.73 345.49,604.94 344.71,604.09 344.04,603.18 343.49,602.22 343.06,601.21 342.75,600.14 342.56,599.01 342.50,597.70 342.56,596.39 342.75,595.26 343.06,594.19 343.49,593.18 344.04,592.22 344.71,591.31 345.49,590.46 346.37,589.67 347.36,588.94 348.46,588.28 349.64,587.69 350.91,587.17 352.27,586.73 353.71,586.36 355.23,586.07 356.84,585.87 358.54,585.74 360.50,585.70 362.46,585.74 364.16,585.87 365.77,586.07 367.29,586.36 368.73,586.73 370.09,587.17 371.36,587.69 372.54,588.28 373.64,588.94 374.63,589.67 375.51,590.46 376.29,591.31 376.96,592.22 377.51,593.18 377.94,594.19 378.25,595.26 378.44,596.39" fill="url(#g17)" filter="url(#fD)"/>
<polygon points="440.20,664.00 440.15,665.31 440.01,666.44 439.77,667.51 439.43,668.52 439.00,669.48 438.48,670.39 437.88,671.24 437.19,672.03 436.42,672.76 435.57,673.42 434.65,674.01 433.66,674.53 432.60,674.97 431.48,675.34 430.30,675.63 429.05,675.83 427.72,675.96 426.20,676.00 424.68,675.96 423.35,675.83 422.10,675.63 420.92,675.34 419.80,674.97 418.74,674.53 417.75,674.01 416.83,673.42 415.98,672.76 415.21,672.03 414.52,671.24 413.92,670.39 413.40,669.48 412.97,668.52 412.63,667.51 412.39,666.44 412.25,665.31 412.20,664.00 412.25,662.69 412.39,661.56 412.63,660.49 412.97,659.48 413.40,658.52 413.92,657.61 414.52,656.76 415.21,655.97 415.98,655.24 416.83,654.58 417.75,653.99 418.74,653.47 419.80,653.03 420.92,652.66 422.10,652.37 423.35,652.17 424.68,652.04 426.20,652.00 427.72,652.04 429.05,652.17 430.30,652.37 431.48,652.66 432.60,653.03 433.66,653.47 434.65,653.99 435.57,654.58 436.42,655.24 437.19,655.97 437.88,656.76 438.48,657.61 439.00,658.52 439.43,659.48 439.77,660.49 440.01,661.56 440.15,662.69" fill="url(#g18)" filter="url(#fD)"/>
<polygon points="374.80,729.20 374.75,730.54 374.59,731.70 374.33,732.80 373.96,733.84 373.49,734.82 372.92,735.75 372.26,736.62 371.51,737.43 370.67,738.18 369.74,738.85 368.73,739.46 367.65,739.99 366.49,740.45 365.27,740.82 363.98,741.12 362.62,741.33 361.16,741.46 359.50,741.50 357.84,741.46 356.38,741.33 355.02,741.12 353.73,740.82 352.51,740.45 351.35,739.99 350.27,739.46 349.26,738.85 348.33,738.18 347.49,737.43 346.74,736.62 346.08,735.75 345.51,734.82 345.04,733.84 344.67,732.80 344.41,731.70 344.25,730.54 344.20,729.20 344.25,727.86 344.41,726.70 344.67,725.60 345.04,724.56 345.51,723.58 346.08,722.65 346.74,721.78 347.49,720.97 348.33,720.22 349.26,719.55 350.27,718.94 351.35,718.41 352.51,717.95 353.73,717.58 355.02,717.28 356.38,717.07 357.84,716.94 359.50,716.90 361.16,716.94 362.62,717.07 363.98,717.28 365.27,717.58 366.49,717.95 367.65,718.41 368.73,718.94 369.74,719.55 370.67,720.22 371.51,720.97 372.26,721.78 372.92,722.65 373.49,723.58 373.96,724.56 374.33,725.60 374.59,726.70 374.75,727.86" fill="url(#g19)" filter="url(#fD)"/>
<polygon points="441.40,795.40 441.34,796.44 441.17,797.35 440.89,798.21 440.50,799.02 440.01,799.79 439.40,800.51 438.70,801.19 437.89,801.82 436.99,802.41 436.01,802.93 434.93,803.41 433.78,803.82 432.55,804.18 431.25,804.47 429.87,804.70 428.42,804.87 426.87,804.97 425.10,805.00 423.33,804.97 421.78,804.87 420.33,804.70 418.95,804.47 417.65,804.18 416.42,803.82 415.27,803.41 414.19,802.93 413.21,802.41 412.31,801.82 411.50,801.19 410.80,800.51 410.19,799.79 409.70,799.02 409.31,798.21 409.03,797.35 408.86,796.44 408.80,795.40 408.86,794.36 409.03,793.45 409.31,792.59 409.70,791.78 410.19,791.01 410.80,790.29 411.50,789.61 412.31,788.98 413.21,788.39 414.19,787.87 415.27,787.39 416.42,786.98 417.65,786.62 418.95,786.33 420.33,786.10 421.78,785.93 423.33,785.83 425.10,785.80 426.87,785.83 428.42,785.93 429.87,786.10 431.25,786.33 432.55,786.62 433.78,786.98 434.93,787.39 436.01,787.87 436.99,788.39 437.89,788.98 438.70,789.61 439.40,790.29 440.01,791.01 440.50,791.78 440.89,792.59 441.17,793.45 441.34,794.36" fill="url(#g20)" filter="url(#fD)"/>
<polygon points="577.90,594.30 577.84,595.56 577.66,596.66 577.37,597.69 576.96,598.67 576.44,599.60 575.80,600.48 575.06,601.30 574.22,602.06 573.28,602.76 572.24,603.40 571.12,603.98 569.91,604.48 568.62,604.91 567.25,605.26 565.80,605.54 564.28,605.74 562.66,605.86 560.80,605.90 558.94,605.86 557.32,605.74 555.80,605.54 554.35,605.26 552.98,604.91 551.69,604.48 550.48,603.98 549.36,603.40 548.32,602.76 547.38,602.06 546.54,601.30 545.80,600.48 545.16,599.60 544.64,598.67 544.23,597.69 543.94,596.66 543.76,595.56 543.70,594.30 543.76,593.04 543.94,591.94 544.23,590.91 544.64,589.93 545.16,589.00 545.80,588.12 546.54,587.30 547.38,586.54 548.32,585.84 549.36,585.20 550.48,584.62 551.69,584.12 552.98,583.69 554.35,583.34 555.80,583.06 557.32,582.86 558.94,582.74 560.80,582.70 562.66,582.74 564.28,582.86 565.80,583.06 567.25,583.34 568.62,583.69 569.91,584.12 571.12,584.62 572.24,585.20 573.28,585.84 574.22,586.54 575.06,587.30 575.80,588.12 576.44,589.00 576.96,589.93 577.37,590.91 577.66,591.94 577.84,593.04" fill="url(#g21)" filter="url(#fD)"/>
<polygon points="577.90,594.30 577.84,595.56 577.66,596.66 577.37,597.69 576.96,598.67 576.44,599.60 575.80,600.48 575.06,601.30 574.22,602.06 573.28,602.76 572.24,603.40 571.12,603.98 569.91,604.48 568.62,604.91 567.25,605.26 565.80,605.54 564.28,605.74 562.66,605.86 560.80,605.90 558.94,605.86 557.32,605.74 555.80,605.54 554.35,605.26 552.98,604.91 551.69,604.48 550.48,603.98 549.36,603.40 548.32,602.76 547.38,602.06 546.54,601.30 545.80,600.48 545.16,599.60 544.64,598.67 544.23,597.69 543.94,596.66 543.76,595.56 543.70,594.30 543.76,593.04 543.94,591.94 544.23,590.91 544.64,589.93 545.16,589.00 545.80,588.12 546.54,587.30 547.38,586.54 548.32,585.84 549.36,585.20 550.48,584.62 551.69,584.12 552.98,583.69 554.35,583.34 555.80,583.06 557.32,582.86 558.94,582.74 560.80,582.70 562.66,582.74 564.28,582.86 565.80,583.06 567.25,583.34 568.62,583.69 569.91,584.12 571.12,584.62 572.24,585.20 573.28,585.84 574.22,586.54 575.06,587.30 575.80,588.12 576.44,589.00 576.96,589.93 577.37,590.91 577.66,591.94 577.84,593.04" fill="none" stroke="#f41010" stroke-width="1.5"/>
<polygon points="640.40,663.50 640.34,664.86 640.18,666.05 639.90,667.16 639.52,668.21 639.03,669.21 638.44,670.16 637.75,671.04 636.96,671.86 636.08,672.62 635.11,673.31 634.05,673.93 632.92,674.47 631.71,674.93 630.43,675.31 629.08,675.61 627.66,675.83 626.14,675.96 624.40,676.00 622.66,675.96 621.14,675.83 619.72,675.61 618.37,675.31 617.09,674.93 615.88,674.47 614.75,673.93 613.69,673.31 612.72,672.62 611.84,671.86 611.05,671.04 610.36,670.16 609.77,669.21 609.28,668.21 608.90,667.16 608.62,666.05 608.46,664.86 608.40,663.50 608.46,662.14 608.62,660.95 608.90,659.84 609.28,658.79 609.77,657.79 610.36,656.84 611.05,655.96 611.84,655.14 612.72,654.38 613.69,653.69 614.75,653.07 615.88,652.53 617.09,652.07 618.37,651.69 619.72,651.39 621.14,651.17 622.66,651.04 624.40,651.00 626.14,651.04 627.66,651.17 629.08,651.39 630.43,651.69 631.71,652.07 632.92,652.53 634.05,653.07 635.11,653.69 636.08,654.38 636.96,655.14 637.75,655.96 638.44,656.84 639.03,657.79 639.52,658.79 639.90,659.84 640.18,660.95 640.34,662.14" fill="url(#g22)" filter="url(#fD)"/>
<polygon points="640.40,663.50 640.34,664.86 640.18,666.05 639.90,667.16 639.52,668.21 639.03,669.21 638.44,670.16 637.75,671.04 636.96,671.86 636.08,672.62 635.11,673.31 634.05,673.93 632.92,674.47 631.71,674.93 630.43,675.31 629.08,675.61 627.66,675.83 626.14,675.96 624.40,676.00 622.66,675.96 621.14,675.83 619.72,675.61 618.37,675.31 617.09,674.93 615.88,674.47 614.75,673.93 613.69,673.31 612.72,672.62 611.84,671.86 611.05,671.04 610.36,670.16 609.77,669.21 609.28,668.21 608.90,667.16 608.62,666.05 608.46,664.86 608.40,663.50 608.46,662.14 608.62,660.95 608.90,659.84 609.28,658.79 609.77,657.79 610.36,656.84 611.05,655.96 611.84,655.14 612.72,654.38 613.69,653.69 614.75,653.07 615.88,652.53 617.09,652.07 618.37,651.69 619.72,651.39 621.14,651.17 622.66,651.04 624.40,651.00 626.14,651.04 627.66,651.17 629.08,651.39 630.43,651.69 631.71,652.07 632.92,652.53 634.05,653.07 635.11,653.69 636.08,654.38 636.96,655.14 637.75,655.96 638.44,656.84 639.03,657.79 639.52,658.79 639.90,659.84 640.18,660.95 640.34,662.14" fill="none" stroke="#f41010" stroke-width="1.5"/>
<polygon points="577.90,726.30 577.84,727.56 577.67,728.66 577.38,729.69 576.98,730.67 576.46,731.60 575.84,732.48 575.11,733.30 574.29,734.06 573.36,734.76 572.34,735.40 571.24,735.98 570.05,736.48 568.78,736.91 567.43,737.26 566.02,737.54 564.52,737.74 562.93,737.86 561.10,737.90 559.27,737.86 557.68,737.74 556.18,737.54 554.77,737.26 553.42,736.91 552.15,736.48 550.96,735.98 549.86,735.40 548.84,734.76 547.91,734.06 547.09,733.30 546.36,732.48 545.74,731.60 545.22,730.67 544.82,729.69 544.53,728.66 544.36,727.56 544.30,726.30 544.36,725.04 544.53,723.94 544.82,722.91 545.22,721.93 545.74,721.00 546.36,720.12 547.09,719.30 547.91,718.54 548.84,717.84 549.86,717.20 550.96,716.62 552.15,716.12 553.42,715.69 554.77,715.34 556.18,715.06 557.68,714.86 559.27,714.74 561.10,714.70 562.93,714.74 564.52,714.86 566.02,715.06 567.43,715.34 568.78,715.69 570.05,716.12 571.24,716.62 572.34,717.20 573.36,717.84 574.29,718.54 575.11,719.30 575.84,720.12 576.46,721.00 576.98,721.93 577.38,722.91 577.67,723.94 577.84,725.04" fill="url(#g23)" filter="url(#fD)"/>
<polygon points="577.90,726.30 577.84,727.56 577.67,728.66 577.38,729.69 576.98,730.67 576.46,731.60 575.84,732.48 575.11,733.30 574.29,734.06 573.36,734.76 572.34,735.40 571.24,735.98 570.05,736.48 568.78,736.91 567.43,737.26 566.02,737.54 564.52,737.74 562.93,737.86 561.10,737.90 559.27,737.86 557.68,737.74 556.18,737.54 554.77,737.26 553.42,736.91 552.15,736.48 550.96,735.98 549.86,735.40 548.84,734.76 547.91,734.06 547.09,733.30 546.36,732.48 545.74,731.60 545.22,730.67 544.82,729.69 544.53,728.66 544.36,727.56 544.30,726.30 544.36,725.04 544.53,723.94 544.82,722.91 545.22,721.93 545.74,721.00 546.36,720.12 547.09,719.30 547.91,718.54 548.84,717.84 549.86,717.20 550.96,716.62 552.15,716.12 553.42,715.69 554.77,715.34 556.18,715.06 557.68,714.86 559.27,714.74 561.10,714.70 562.93,714.74 564.52,714.86 566.02,715.06 567.43,715.34 568.78,715.69 570.05,716.12 571.24,716.62 572.34,717.20 573.36,717.84 574.29,718.54 575.11,719.30 575.84,720.12 576.46,721.00 576.98,721.93 577.38,722.91 577.67,723.94 577.84,725.04" fill="none" stroke="#f41010" stroke-width="1.5"/>
<polygon points="643.40,794.10 643.34,795.45 643.16,796.62 642.86,797.73 642.45,798.78 641.92,799.77 641.28,800.70 640.53,801.58 639.68,802.40 638.72,803.15 637.68,803.83 636.54,804.44 635.31,804.98 634.01,805.44 632.62,805.82 631.16,806.12 629.62,806.33 627.98,806.46 626.10,806.50 624.22,806.46 622.58,806.33 621.04,806.12 619.58,805.82 618.19,805.44 616.89,804.98 615.66,804.44 614.52,803.83 613.48,803.15 612.52,802.40 611.67,801.58 610.92,800.70 610.28,799.77 609.75,798.78 609.34,797.73 609.04,796.62 608.86,795.45 608.80,794.10 608.86,792.75 609.04,791.58 609.34,790.47 609.75,789.42 610.28,788.43 610.92,787.50 611.67,786.62 612.52,785.80 613.48,785.05 614.52,784.37 615.66,783.76 616.89,783.22 618.19,782.76 619.58,782.38 621.04,782.08 622.58,781.87 624.22,781.74 626.10,781.70 627.98,781.74 629.62,781.87 631.16,782.08 632.62,782.38 634.01,782.76 635.31,783.22 636.54,783.76 637.68,784.37 638.72,785.05 639.68,785.80 640.53,786.62 641.28,787.50 641.92,788.43 642.45,789.42 642.86,790.47 643.16,791.58 643.34,792.75" fill="url(#g24)" filter="url(#fD)"/>
<polygon points="643.40,794.10 643.34,795.45 643.16,796.62 642.86,797.73 642.45,798.78 641.92,799.77 641.28,800.70 640.53,801.58 639.68,802.40 638.72,803.15 637.68,803.83 636.54,804.44 635.31,804.98 634.01,805.44 632.62,805.82 631.16,806.12 629.62,806.33 627.98,806.46 626.10,806.50 624.22,806.46 622.58,806.33 621.04,806.12 619.58,805.82 618.19,805.44 616.89,804.98 615.66,804.44 614.52,803.83 613.48,803.15 612.52,802.40 611.67,801.58 610.92,800.70 610.28,799.77 609.75,798.78 609.34,797.73 609.04,796.62 608.86,795.45 608.80,794.10 608.86,792.75 609.04,791.58 609.34,790.47 609.75,789.42 610.28,788.43 610.92,787.50 611.67,786.62 612.52,785.80 613.48,785.05 614.52,784.37 615.66,783.76 616.89,783.22 618.19,782.76 619.58,782.38 621.04,782.08 622.58,781.87 624.22,781.74 626.10,781.70 627.98,781.74 629.62,781.87 631.16,782.08 632.62,782.38 634.01,782.76 635.31,783.22 636.54,783.76 637.68,784.37 638.72,785.05 639.68,785.80 640.53,786.62 641.28,787.50 641.92,788.43 642.45,789.42 642.86,790.47 643.16,791.58 643.34,792.75" fill="none" stroke="#f41010" stroke-width="1.5"/>
<rect x="332.50" y="945.60" width="443.50" height="2.80" fill="#222"/>
<rect x="66.60" y="965.00" width="25.99" height="33.71" fill="#3a8be8" stroke="#9aa4a4" stroke-width="1"/><rect x="92.59" y="965.00" width="25.99" height="33.71" fill="#55aee8" stroke="#9aa4a4" stroke-width="1"/><rect x="118.58" y="965.00" width="25.99" height="33.71" fill="#4399e6" stroke="#9aa4a4" stroke-width="1"/><rect x="144.57" y="965.00" width="25.99" height="33.71" fill="#2b6ff0" stroke="#9aa4a4" stroke-width="1"/><rect x="170.57" y="965.00" width="25.99" height="33.71" fill="#fa6e5c" stroke="#9aa4a4" stroke-width="1"/><rect x="196.56" y="965.00" width="25.99" height="33.71" fill="#fdc8bc" stroke="#9aa4a4" stroke-width="1"/><rect x="222.55" y="965.00" width="25.99" height="33.71" fill="#fde2dc" stroke="#9aa4a4" stroke-width="1"/><rect x="248.54" y="965.00" width="25.99" height="33.71" fill="#fb9485" stroke="#9aa4a4" stroke-width="1"/><rect x="274.53" y="965.00" width="25.99" height="33.71" fill="#fdf1ec" stroke="#9aa4a4" stroke-width="1"/><rect x="300.52" y="965.00" width="25.99" height="33.71" fill="#9ae0ee" stroke="#9aa4a4" stroke-width="1"/><rect x="326.52" y="965.00" width="25.99" height="33.71" fill="#c9eff5" stroke="#9aa4a4" stroke-width="1"/><rect x="352.51" y="965.00" width="25.99" height="33.71" fill="#fdf5f4" stroke="#9aa4a4" stroke-width="1"/><rect x="66.60" y="998.71" width="25.99" height="33.71" fill="#e4f5f7" stroke="#9aa4a4" stroke-width="1"/><rect x="92.59" y="998.71" width="25.99" height="33.71" fill="#e3f6f8" stroke="#9aa4a4" stroke-width="1"/><rect x="118.58" y="998.71" width="25.99" height="33.71" fill="#e6f6f7" stroke="#9aa4a4" stroke-width="1"/><rect x="144.57" y="998.71" width="25.99" height="33.71" fill="#eef7f9" stroke="#9aa4a4" stroke-width="1"/><rect x="170.57" y="998.71" width="25.99" height="33.71" fill="#3889e8" stroke="#9aa4a4" stroke-width="1"/><rect x="196.56" y="998.71" width="25.99" height="33.71" fill="#3787e8" stroke="#9aa4a4" stroke-width="1"/><rect x="222.55" y="998.71" width="25.99" height="33.71" fill="#3787e8" stroke="#9aa4a4" stroke-width="1"/><rect x="248.54" y="998.71" width="25.99" height="33.71" fill="#3889e8" stroke="#9aa4a4" stroke-width="1"/><rect x="274.53" y="998.71" width="25.99" height="33.71" fill="#f8735e" stroke="#9aa4a4" stroke-width="1"/><rect x="300.52" y="998.71" width="25.99" height="33.71" fill="#fb8a7a" stroke="#9aa4a4" stroke-width="1"/><rect x="326.52" y="998.71" width="25.99" height="33.71" fill="#fde0da" stroke="#9aa4a4" stroke-width="1"/><rect x="352.51" y="998.71" width="25.99" height="33.71" fill="#fdc4b8" stroke="#9aa4a4" stroke-width="1"/><rect x="66.60" y="1032.41" width="25.99" height="33.71" fill="#d4f0f5" stroke="#9aa4a4" stroke-width="1"/><rect x="92.59" y="1032.41" width="25.99" height="33.71" fill="#ecf8f9" stroke="#9aa4a4" stroke-width="1"/><rect x="118.58" y="1032.41" width="25.99" height="33.71" fill="#e3f5f7" stroke="#9aa4a4" stroke-width="1"/><rect x="144.57" y="1032.41" width="25.99" height="33.71" fill="#e6f5f8" stroke="#9aa4a4" stroke-width="1"/><rect x="170.57" y="1032.41" width="25.99" height="33.71" fill="#3a8ae6" stroke="#9aa4a4" stroke-width="1"/><rect x="196.56" y="1032.41" width="25.99" height="33.71" fill="#3888e8" stroke="#9aa4a4" stroke-width="1"/><rect x="222.55" y="1032.41" width="25.99" height="33.71" fill="#3283e8" stroke="#9aa4a4" stroke-width="1"/><rect x="248.54" y="1032.41" width="25.99" height="33.71" fill="#3d8fe6" stroke="#9aa4a4" stroke-width="1"/><rect x="274.53" y="1032.41" width="25.99" height="33.71" fill="#f87b66" stroke="#9aa4a4" stroke-width="1"/><rect x="300.52" y="1032.41" width="25.99" height="33.71" fill="#fcb0a4" stroke="#9aa4a4" stroke-width="1"/><rect x="326.52" y="1032.41" width="25.99" height="33.71" fill="#fdd0c6" stroke="#9aa4a4" stroke-width="1"/><rect x="352.51" y="1032.41" width="25.99" height="33.71" fill="#fa8270" stroke="#9aa4a4" stroke-width="1"/><rect x="66.60" y="1066.12" width="25.99" height="33.71" fill="#eef5fb" stroke="#9aa4a4" stroke-width="1"/><rect x="92.59" y="1066.12" width="25.99" height="33.71" fill="#e2f5f8" stroke="#9aa4a4" stroke-width="1"/><rect x="118.58" y="1066.12" width="25.99" height="33.71" fill="#ddf3f6" stroke="#9aa4a4" stroke-width="1"/><rect x="144.57" y="1066.12" width="25.99" height="33.71" fill="#d8f2f6" stroke="#9aa4a4" stroke-width="1"/><rect x="170.57" y="1066.12" width="25.99" height="33.71" fill="#3a8ce6" stroke="#9aa4a4" stroke-width="1"/><rect x="196.56" y="1066.12" width="25.99" height="33.71" fill="#3a8ce6" stroke="#9aa4a4" stroke-width="1"/><rect x="222.55" y="1066.12" width="25.99" height="33.71" fill="#3a8ce6" stroke="#9aa4a4" stroke-width="1"/><rect x="248.54" y="1066.12" width="25.99" height="33.71" fill="#3a8ce6" stroke="#9aa4a4" stroke-width="1"/><rect x="274.53" y="1066.12" width="25.99" height="33.71" fill="#fb9888" stroke="#9aa4a4" stroke-width="1"/><rect x="300.52" y="1066.12" width="25.99" height="33.71" fill="#fcaea2" stroke="#9aa4a4" stroke-width="1"/><rect x="326.52" y="1066.12" width="25.99" height="33.71" fill="#fdb9ad" stroke="#9aa4a4" stroke-width="1"/><rect x="352.51" y="1066.12" width="25.99" height="33.71" fill="#f97a68" stroke="#9aa4a4" stroke-width="1"/><rect x="66.60" y="1099.83" width="25.99" height="33.71" fill="#e8f5f8" stroke="#9aa4a4" stroke-width="1"/><rect x="92.59" y="1099.83" width="25.99" height="33.71" fill="#e7f4f8" stroke="#9aa4a4" stroke-width="1"/><rect x="118.58" y="1099.83" width="25.99" height="33.71" fill="#edf5f9" stroke="#9aa4a4" stroke-width="1"/><rect x="144.57" y="1099.83" width="25.99" height="33.71" fill="#eef6f9" stroke="#9aa4a4" stroke-width="1"/><rect x="170.57" y="1099.83" width="25.99" height="33.71" fill="#3787e8" stroke="#9aa4a4" stroke-width="1"/><rect x="196.56" y="1099.83" width="25.99" height="33.71" fill="#3787e8" stroke="#9aa4a4" stroke-width="1"/><rect x="222.55" y="1099.83" width="25.99" height="33.71" fill="#3787e8" stroke="#9aa4a4" stroke-width="1"/><rect x="248.54" y="1099.83" width="25.99" height="33.71" fill="#3787e8" stroke="#9aa4a4" stroke-width="1"/><rect x="274.53" y="1099.83" width="25.99" height="33.71" fill="#fdbcb0" stroke="#9aa4a4" stroke-width="1"/><rect x="300.52" y="1099.83" width="25.99" height="33.71" fill="#fcaa9c" stroke="#9aa4a4" stroke-width="1"/><rect x="326.52" y="1099.83" width="25.99" height="33.71" fill="#fdbcb0" stroke="#9aa4a4" stroke-width="1"/><rect x="352.51" y="1099.83" width="25.99" height="33.71" fill="#fa8e7e" stroke="#9aa4a4" stroke-width="1"/><rect x="66.60" y="1133.53" width="25.99" height="33.71" fill="#fde4de" stroke="#9aa4a4" stroke-width="1"/><rect x="92.59" y="1133.53" width="25.99" height="33.71" fill="#dc2a3a" stroke="#9aa4a4" stroke-width="1"/><rect x="118.58" y="1133.53" width="25.99" height="33.71" fill="#fb6e5a" stroke="#9aa4a4" stroke-width="1"/><rect x="144.57" y="1133.53" width="25.99" height="33.71" fill="#fcaea2" stroke="#9aa4a4" stroke-width="1"/><rect x="170.57" y="1133.53" width="25.99" height="33.71" fill="#a8e3f0" stroke="#9aa4a4" stroke-width="1"/><rect x="196.56" y="1133.53" width="25.99" height="33.71" fill="#ccf1f6" stroke="#9aa4a4" stroke-width="1"/><rect x="222.55" y="1133.53" width="25.99" height="33.71" fill="#58b2ea" stroke="#9aa4a4" stroke-width="1"/><rect x="248.54" y="1133.53" width="25.99" height="33.71" fill="#3a8ce6" stroke="#9aa4a4" stroke-width="1"/><rect x="274.53" y="1133.53" width="25.99" height="33.71" fill="#9ee0ee" stroke="#9aa4a4" stroke-width="1"/><rect x="300.52" y="1133.53" width="25.99" height="33.71" fill="#55aeea" stroke="#9aa4a4" stroke-width="1"/><rect x="326.52" y="1133.53" width="25.99" height="33.71" fill="#cff2f7" stroke="#9aa4a4" stroke-width="1"/><rect x="352.51" y="1133.53" width="25.99" height="33.71" fill="#7ed0ec" stroke="#9aa4a4" stroke-width="1"/><rect x="66.60" y="1167.24" width="25.99" height="33.71" fill="#fdfcfc" stroke="#9aa4a4" stroke-width="1"/><rect x="92.59" y="1167.24" width="25.99" height="33.71" fill="#da2a3a" stroke="#9aa4a4" stroke-width="1"/><rect x="118.58" y="1167.24" width="25.99" height="33.71" fill="#fc9a8c" stroke="#9aa4a4" stroke-width="1"/><rect x="144.57" y="1167.24" width="25.99" height="33.71" fill="#fb8570" stroke="#9aa4a4" stroke-width="1"/><rect x="170.57" y="1167.24" width="25.99" height="33.71" fill="#fdfdfc" stroke="#9aa4a4" stroke-width="1"/><rect x="196.56" y="1167.24" width="25.99" height="33.71" fill="#d6f4f8" stroke="#9aa4a4" stroke-width="1"/><rect x="222.55" y="1167.24" width="25.99" height="33.71" fill="#80d0ec" stroke="#9aa4a4" stroke-width="1"/><rect x="248.54" y="1167.24" width="25.99" height="33.71" fill="#3a88e6" stroke="#9aa4a4" stroke-width="1"/><rect x="274.53" y="1167.24" width="25.99" height="33.71" fill="#65bdea" stroke="#9aa4a4" stroke-width="1"/><rect x="300.52" y="1167.24" width="25.99" height="33.71" fill="#4498e8" stroke="#9aa4a4" stroke-width="1"/><rect x="326.52" y="1167.24" width="25.99" height="33.71" fill="#b2e8f2" stroke="#9aa4a4" stroke-width="1"/><rect x="352.51" y="1167.24" width="25.99" height="33.71" fill="#7ccdeb" stroke="#9aa4a4" stroke-width="1"/><rect x="66.60" y="1200.95" width="25.99" height="33.71" fill="#d41f35" stroke="#9aa4a4" stroke-width="1"/><rect x="92.59" y="1200.95" width="25.99" height="33.71" fill="#fcb4a8" stroke="#9aa4a4" stroke-width="1"/><rect x="118.58" y="1200.95" width="25.99" height="33.71" fill="#fa7e6c" stroke="#9aa4a4" stroke-width="1"/><rect x="144.57" y="1200.95" width="25.99" height="33.71" fill="#fde0d8" stroke="#9aa4a4" stroke-width="1"/><rect x="170.57" y="1200.95" width="25.99" height="33.71" fill="#92d8ea" stroke="#9aa4a4" stroke-width="1"/><rect x="196.56" y="1200.95" width="25.99" height="33.71" fill="#5ab0e8" stroke="#9aa4a4" stroke-width="1"/><rect x="222.55" y="1200.95" width="25.99" height="33.71" fill="#4ea2e8" stroke="#9aa4a4" stroke-width="1"/><rect x="248.54" y="1200.95" width="25.99" height="33.71" fill="#78c8e8" stroke="#9aa4a4" stroke-width="1"/><rect x="274.53" y="1200.95" width="25.99" height="33.71" fill="#b6e9f2" stroke="#9aa4a4" stroke-width="1"/><rect x="300.52" y="1200.95" width="25.99" height="33.71" fill="#92d9ec" stroke="#9aa4a4" stroke-width="1"/><rect x="326.52" y="1200.95" width="25.99" height="33.71" fill="#8ad5eb" stroke="#9aa4a4" stroke-width="1"/><rect x="352.51" y="1200.95" width="25.99" height="33.71" fill="#bdebf3" stroke="#9aa4a4" stroke-width="1"/><rect x="66.60" y="1234.65" width="25.99" height="33.71" fill="#fdd0c6" stroke="#9aa4a4" stroke-width="1"/><rect x="92.59" y="1234.65" width="25.99" height="33.71" fill="#f86652" stroke="#9aa4a4" stroke-width="1"/><rect x="118.58" y="1234.65" width="25.99" height="33.71" fill="#fde6e2" stroke="#9aa4a4" stroke-width="1"/><rect x="144.57" y="1234.65" width="25.99" height="33.71" fill="#fcb4a8" stroke="#9aa4a4" stroke-width="1"/><rect x="170.57" y="1234.65" width="25.99" height="33.71" fill="#3583ea" stroke="#9aa4a4" stroke-width="1"/><rect x="196.56" y="1234.65" width="25.99" height="33.71" fill="#3888e8" stroke="#9aa4a4" stroke-width="1"/><rect x="222.55" y="1234.65" width="25.99" height="33.71" fill="#2e7cec" stroke="#9aa4a4" stroke-width="1"/><rect x="248.54" y="1234.65" width="25.99" height="33.71" fill="#3a88e6" stroke="#9aa4a4" stroke-width="1"/><rect x="274.53" y="1234.65" width="25.99" height="33.71" fill="#fdf9f9" stroke="#9aa4a4" stroke-width="1"/><rect x="300.52" y="1234.65" width="25.99" height="33.71" fill="#d2f2f7" stroke="#9aa4a4" stroke-width="1"/><rect x="326.52" y="1234.65" width="25.99" height="33.71" fill="#f9fdfd" stroke="#9aa4a4" stroke-width="1"/><rect x="352.51" y="1234.65" width="25.99" height="33.71" fill="#eef8f9" stroke="#9aa4a4" stroke-width="1"/><rect x="66.60" y="1268.36" width="25.99" height="33.71" fill="#fdf8f6" stroke="#9aa4a4" stroke-width="1"/><rect x="92.59" y="1268.36" width="25.99" height="33.71" fill="#b80a20" stroke="#9aa4a4" stroke-width="1"/><rect x="118.58" y="1268.36" width="25.99" height="33.71" fill="#fdeae6" stroke="#9aa4a4" stroke-width="1"/><rect x="144.57" y="1268.36" width="25.99" height="33.71" fill="#fdd0c6" stroke="#9aa4a4" stroke-width="1"/><rect x="170.57" y="1268.36" width="25.99" height="33.71" fill="#4fa3e8" stroke="#9aa4a4" stroke-width="1"/><rect x="196.56" y="1268.36" width="25.99" height="33.71" fill="#3a8ae6" stroke="#9aa4a4" stroke-width="1"/><rect x="222.55" y="1268.36" width="25.99" height="33.71" fill="#4a9ee8" stroke="#9aa4a4" stroke-width="1"/><rect x="248.54" y="1268.36" width="25.99" height="33.71" fill="#2e7cec" stroke="#9aa4a4" stroke-width="1"/><rect x="274.53" y="1268.36" width="25.99" height="33.71" fill="#f2fafb" stroke="#9aa4a4" stroke-width="1"/><rect x="300.52" y="1268.36" width="25.99" height="33.71" fill="#bdecf3" stroke="#9aa4a4" stroke-width="1"/><rect x="326.52" y="1268.36" width="25.99" height="33.71" fill="#f2fafb" stroke="#9aa4a4" stroke-width="1"/><rect x="352.51" y="1268.36" width="25.99" height="33.71" fill="#f2f9fa" stroke="#9aa4a4" stroke-width="1"/><rect x="66.60" y="1302.07" width="25.99" height="33.71" fill="#fdece8" stroke="#9aa4a4" stroke-width="1"/><rect x="92.59" y="1302.07" width="25.99" height="33.71" fill="#c20c28" stroke="#9aa4a4" stroke-width="1"/><rect x="118.58" y="1302.07" width="25.99" height="33.71" fill="#fde0da" stroke="#9aa4a4" stroke-width="1"/><rect x="144.57" y="1302.07" width="25.99" height="33.71" fill="#fdd6ce" stroke="#9aa4a4" stroke-width="1"/><rect x="170.57" y="1302.07" width="25.99" height="33.71" fill="#4da4e8" stroke="#9aa4a4" stroke-width="1"/><rect x="196.56" y="1302.07" width="25.99" height="33.71" fill="#4598e8" stroke="#9aa4a4" stroke-width="1"/><rect x="222.55" y="1302.07" width="25.99" height="33.71" fill="#3a88e6" stroke="#9aa4a4" stroke-width="1"/><rect x="248.54" y="1302.07" width="25.99" height="33.71" fill="#3a88e6" stroke="#9aa4a4" stroke-width="1"/><rect x="274.53" y="1302.07" width="25.99" height="33.71" fill="#eaf7f9" stroke="#9aa4a4" stroke-width="1"/><rect x="300.52" y="1302.07" width="25.99" height="33.71" fill="#86d6ee" stroke="#9aa4a4" stroke-width="1"/><rect x="326.52" y="1302.07" width="25.99" height="33.71" fill="#f8fafc" stroke="#9aa4a4" stroke-width="1"/><rect x="352.51" y="1302.07" width="25.99" height="33.71" fill="#fde8e8" stroke="#9aa4a4" stroke-width="1"/><rect x="66.60" y="1335.77" width="25.99" height="33.71" fill="#d52035" stroke="#9aa4a4" stroke-width="1"/><rect x="92.59" y="1335.77" width="25.99" height="33.71" fill="#fa7e6a" stroke="#9aa4a4" stroke-width="1"/><rect x="118.58" y="1335.77" width="25.99" height="33.71" fill="#fdf0ee" stroke="#9aa4a4" stroke-width="1"/><rect x="144.57" y="1335.77" width="25.99" height="33.71" fill="#fdf8f7" stroke="#9aa4a4" stroke-width="1"/><rect x="170.57" y="1335.77" width="25.99" height="33.71" fill="#55ace8" stroke="#9aa4a4" stroke-width="1"/><rect x="196.56" y="1335.77" width="25.99" height="33.71" fill="#4fa4e8" stroke="#9aa4a4" stroke-width="1"/><rect x="222.55" y="1335.77" width="25.99" height="33.71" fill="#3787e8" stroke="#9aa4a4" stroke-width="1"/><rect x="248.54" y="1335.77" width="25.99" height="33.71" fill="#2e78ec" stroke="#9aa4a4" stroke-width="1"/><rect x="274.53" y="1335.77" width="25.99" height="33.71" fill="#e6f6f9" stroke="#9aa4a4" stroke-width="1"/><rect x="300.52" y="1335.77" width="25.99" height="33.71" fill="#bdecf3" stroke="#9aa4a4" stroke-width="1"/><rect x="326.52" y="1335.77" width="25.99" height="33.71" fill="#f4fbfb" stroke="#9aa4a4" stroke-width="1"/><rect x="352.51" y="1335.77" width="25.99" height="33.71" fill="#fde8e8" stroke="#9aa4a4" stroke-width="1"/><rect x="66.60" y="1369.48" width="25.99" height="33.71" fill="#f86552" stroke="#9aa4a4" stroke-width="1"/><rect x="92.59" y="1369.48" width="25.99" height="33.71" fill="#fdccc2" stroke="#9aa4a4" stroke-width="1"/><rect x="118.58" y="1369.48" width="25.99" height="33.71" fill="#fcaa9e" stroke="#9aa4a4" stroke-width="1"/><rect x="144.57" y="1369.48" width="25.99" height="33.71" fill="#fdd0c6" stroke="#9aa4a4" stroke-width="1"/><rect x="170.57" y="1369.48" width="25.99" height="33.71" fill="#4a9ee8" stroke="#9aa4a4" stroke-width="1"/><rect x="196.56" y="1369.48" width="25.99" height="33.71" fill="#3a88e6" stroke="#9aa4a4" stroke-width="1"/><rect x="222.55" y="1369.48" width="25.99" height="33.71" fill="#3a88e6" stroke="#9aa4a4" stroke-width="1"/><rect x="248.54" y="1369.48" width="25.99" height="33.71" fill="#3a88e6" stroke="#9aa4a4" stroke-width="1"/><rect x="274.53" y="1369.48" width="25.99" height="33.71" fill="#fdf8f8" stroke="#9aa4a4" stroke-width="1"/><rect x="300.52" y="1369.48" width="25.99" height="33.71" fill="#b0e6f0" stroke="#9aa4a4" stroke-width="1"/><rect x="326.52" y="1369.48" width="25.99" height="33.71" fill="#e8f6f8" stroke="#9aa4a4" stroke-width="1"/><rect x="352.51" y="1369.48" width="25.99" height="33.71" fill="#e8f7f8" stroke="#9aa4a4" stroke-width="1"/><rect x="66.60" y="1403.19" width="25.99" height="33.71" fill="#fa8e7e" stroke="#9aa4a4" stroke-width="1"/><rect x="92.59" y="1403.19" width="25.99" height="33.71" fill="#fcbcb0" stroke="#9aa4a4" stroke-width="1"/><rect x="118.58" y="1403.19" width="25.99" height="33.71" fill="#fcaea2" stroke="#9aa4a4" stroke-width="1"/><rect x="144.57" y="1403.19" width="25.99" height="33.71" fill="#fde0d8" stroke="#9aa4a4" stroke-width="1"/><rect x="170.57" y="1403.19" width="25.99" height="33.71" fill="#3d8ee6" stroke="#9aa4a4" stroke-width="1"/><rect x="196.56" y="1403.19" width="25.99" height="33.71" fill="#4a9ee8" stroke="#9aa4a4" stroke-width="1"/><rect x="222.55" y="1403.19" width="25.99" height="33.71" fill="#2e78ec" stroke="#9aa4a4" stroke-width="1"/><rect x="248.54" y="1403.19" width="25.99" height="33.71" fill="#2a6ef0" stroke="#9aa4a4" stroke-width="1"/><rect x="274.53" y="1403.19" width="25.99" height="33.71" fill="#e0f5f8" stroke="#9aa4a4" stroke-width="1"/><rect x="300.52" y="1403.19" width="25.99" height="33.71" fill="#e3f6f8" stroke="#9aa4a4" stroke-width="1"/><rect x="326.52" y="1403.19" width="25.99" height="33.71" fill="#fcfcfc" stroke="#9aa4a4" stroke-width="1"/><rect x="352.51" y="1403.19" width="25.99" height="33.71" fill="#fcf8f8" stroke="#9aa4a4" stroke-width="1"/><rect x="66.60" y="1436.89" width="25.99" height="33.71" fill="#fb9484" stroke="#9aa4a4" stroke-width="1"/><rect x="92.59" y="1436.89" width="25.99" height="33.71" fill="#fdd8d0" stroke="#9aa4a4" stroke-width="1"/><rect x="118.58" y="1436.89" width="25.99" height="33.71" fill="#fdd4cc" stroke="#9aa4a4" stroke-width="1"/><rect x="144.57" y="1436.89" width="25.99" height="33.71" fill="#fca898" stroke="#9aa4a4" stroke-width="1"/><rect x="170.57" y="1436.89" width="25.99" height="33.71" fill="#4ea4e8" stroke="#9aa4a4" stroke-width="1"/><rect x="196.56" y="1436.89" width="25.99" height="33.71" fill="#3480ea" stroke="#9aa4a4" stroke-width="1"/><rect x="222.55" y="1436.89" width="25.99" height="33.71" fill="#3078ec" stroke="#9aa4a4" stroke-width="1"/><rect x="248.54" y="1436.89" width="25.99" height="33.71" fill="#2566f2" stroke="#9aa4a4" stroke-width="1"/><rect x="274.53" y="1436.89" width="25.99" height="33.71" fill="#eef8f9" stroke="#9aa4a4" stroke-width="1"/><rect x="300.52" y="1436.89" width="25.99" height="33.71" fill="#e8f4f9" stroke="#9aa4a4" stroke-width="1"/><rect x="326.52" y="1436.89" width="25.99" height="33.71" fill="#eef8f9" stroke="#9aa4a4" stroke-width="1"/><rect x="352.51" y="1436.89" width="25.99" height="33.71" fill="#fbf6f6" stroke="#9aa4a4" stroke-width="1"/>
<text transform="translate(381.60,989.00) scale(1.0050,1)" font-size="18.8" fill="#1a1a1a">m/z 1542.594; FGA; DEAGSEADHEGTHST</text><text transform="translate(381.60,1022.71) scale(1.0050,1)" font-size="18.8" fill="#1a1a1a">m/z 1487.636; SERPINA6; AKSDTSLEMTMGNA</text><text transform="translate(381.60,1056.41) scale(1.0050,1)" font-size="18.8" fill="#1a1a1a">m/z 1072.459; SERPINA3; FATDFQDSAA</text><text transform="translate(381.60,1090.12) scale(1.0050,1)" font-size="18.8" fill="#1a1a1a">m/z 1206.576; FGA; EGDFLAEGGGVR</text><text transform="translate(381.60,1123.83) scale(1.0050,1)" font-size="18.8" fill="#1a1a1a">m/z 1465.656; FGA; DSGEGDFLAEGGGVR</text><text transform="translate(381.60,1157.53) scale(1.0050,1)" font-size="18.8" fill="#1a1a1a">m/z 1225.679; CR1L; SVLLAQELPQQ</text><text transform="translate(381.60,1191.24) scale(1.0050,1)" font-size="18.8" fill="#1a1a1a">m/z 1252.694; PON1/PON3; LAFISSGLKYPG</text><text transform="translate(381.60,1224.95) scale(1.0050,1)" font-size="18.8" fill="#1a1a1a">m/z 1359.592; IGKC; VTEQDSKDSTYS</text><text transform="translate(381.60,1258.65) scale(1.0050,1)" font-size="18.8" fill="#1a1a1a">m/z 1132.462; C3; DFLEANYM*N</text><text transform="translate(381.60,1292.36) scale(1.0050,1)" font-size="18.8" fill="#1a1a1a">m/z 992.578; SERPINA3; KLINDYVK</text><text transform="translate(381.60,1326.07) scale(1.0050,1)" font-size="18.8" fill="#1a1a1a">m/z 1019.614; SERPINA1; LFLSEGLKL</text><text transform="translate(381.60,1359.77) scale(1.0050,1)" font-size="18.8" fill="#1a1a1a">m/z 1032.584; APOA1; LYRQKVEP</text><text transform="translate(381.60,1393.48) scale(1.0050,1)" font-size="18.8" fill="#1a1a1a">m/z 1736.930; AHSG; VVSLGSPSGEVSHPRKT</text><text transform="translate(381.60,1427.19) scale(1.0050,1)" font-size="18.8" fill="#1a1a1a">m/z 1141.585; APOA1; EPLRAELQEG</text><text transform="translate(381.60,1460.89) scale(1.0050,1)" font-size="18.8" fill="#1a1a1a">m/z 1352.612; APOA1; DDFQKKWQEE</text>
<path d="M131.58 965.00L131.58 962.60M131.58 962.60L157.57 962.60M157.57 962.60L157.57 965.00M105.59 965.00L105.59 959.00M105.59 959.00L144.57 959.00M144.57 959.00L144.57 962.60M79.60 965.00L79.60 953.00M79.60 953.00L125.08 953.00M125.08 953.00L125.08 959.00M183.56 965.00L183.56 963.60M183.56 963.60L209.55 963.60M209.55 963.60L209.55 965.00M235.55 965.00L235.55 963.60M235.55 963.60L261.54 963.60M261.54 963.60L261.54 965.00M196.56 963.60L196.56 961.30M196.56 961.30L248.54 961.30M248.54 961.30L248.54 963.60M287.53 965.00L287.53 962.10M287.53 962.10L313.52 962.10M313.52 962.10L313.52 965.00M339.51 965.00L339.51 962.10M339.51 962.10L365.50 962.10M365.50 962.10L365.50 965.00M300.52 962.10L300.52 960.30M300.52 960.30L352.51 960.30M352.51 960.30L352.51 962.10M222.55 961.30L222.55 910.50M222.55 910.50L326.52 910.50M326.52 910.50L326.52 960.30M102.34 953.00L102.34 903.40M102.34 903.40L274.53 903.40M274.53 903.40L274.53 910.50M66.60 1082.97L65.80 1082.97M65.80 1082.97L65.80 1116.68M65.80 1116.68L66.60 1116.68M66.60 1049.27L65.40 1049.27M65.40 1049.27L65.40 1099.83M65.40 1099.83L65.80 1099.83M66.60 1015.56L65.00 1015.56M65.00 1015.56L65.00 1074.55M65.00 1074.55L65.40 1074.55M66.60 1150.39L64.60 1150.39M64.60 1150.39L64.60 1184.09M64.60 1184.09L66.60 1184.09M66.60 1285.21L65.60 1285.21M65.60 1285.21L65.60 1318.92M65.60 1318.92L66.60 1318.92M66.60 1251.51L65.10 1251.51M65.10 1251.51L65.10 1302.07M65.10 1302.07L65.60 1302.07M66.60 1420.04L65.60 1420.04M65.60 1420.04L65.60 1453.75M65.60 1453.75L66.60 1453.75M66.60 1386.33L64.60 1386.33M64.60 1386.33L64.60 1436.89M64.60 1436.89L65.60 1436.89M66.60 1352.63L63.80 1352.63M63.80 1352.63L63.80 1411.61M63.80 1411.61L64.60 1411.61M65.10 1276.79L63.00 1276.79M63.00 1276.79L63.00 1382.12M63.00 1382.12L63.80 1382.12M66.60 1217.80L60.40 1217.80M60.40 1217.80L60.40 1329.45M60.40 1329.45L63.00 1329.45M64.60 1167.24L56.70 1167.24M56.70 1167.24L56.70 1273.63M56.70 1273.63L60.40 1273.63M65.00 1045.05L43.50 1045.05M43.50 1045.05L43.50 1220.43M43.50 1220.43L56.70 1220.43M66.60 981.85L4.60 981.85M4.60 981.85L4.60 1132.74M4.60 1132.74L43.50 1132.74" stroke="#4a5050" stroke-width="1.15" fill="none" stroke-linecap="square"/>
<rect x="8.60" y="1265.50" width="13.30" height="197.30" fill="url(#leg)"/>
<text x="26.60" y="1274.70" font-size="13.8" fill="#222">2</text>
<text x="26.60" y="1303.20" font-size="13.8" fill="#222">1.5</text>
<text x="26.60" y="1331.70" font-size="13.8" fill="#222">1</text>
<text x="26.60" y="1360.20" font-size="13.8" fill="#222">0.5</text>
<text x="26.60" y="1388.70" font-size="13.8" fill="#222">0</text>
<text x="26.60" y="1417.20" font-size="13.8" fill="#222">-0.5</text>
<text x="26.60" y="1445.70" font-size="13.8" fill="#222">-1</text>
<rect x="63.00" y="1475.00" width="105.00" height="12.00" fill="#ff0000"/>
<rect x="168.00" y="1475.00" width="105.20" height="12.00" fill="#2a3cf5"/>
<rect x="273.20" y="1475.00" width="105.60" height="12.00" fill="#2ef50a"/>
<rect x="62.00" y="1535.00" width="54.50" height="11.40" fill="#ff0000"/>
<rect x="226.00" y="1533.60" width="53.80" height="11.80" fill="#2a3cf5"/>
<rect x="429.00" y="1531.80" width="54.00" height="12.00" fill="#2ef50a"/>
<text transform="translate(23.38,44.00) scale(1.0068,1)" font-size="52" fill="#000" font-weight="700">(A)</text>
<text transform="translate(106.79,43.70) scale(0.9754,1)" font-size="38" fill="#000" stroke="#000" stroke-width="0.45">m/z 966.339</text>
<text transform="translate(105.60,466.75) scale(0.9640,1)" font-size="38.2" fill="#000" stroke="#000" stroke-width="0.45">m/z 1260.474</text>
<text transform="translate(137.86,141.00) scale(0.9416,1)" font-size="39.2" fill="#4052f4" stroke="#4052f4" stroke-width="0.45">Healthy</text>
<text transform="translate(322.11,141.00) scale(0.9395,1)" font-size="39.2" fill="#3ae820" stroke="#3ae820" stroke-width="0.45">Cirrhosis</text>
<text transform="translate(539.61,141.00) scale(0.9389,1)" font-size="39.2" fill="#f80808" stroke="#f80808" stroke-width="0.45">HCC</text>
<text transform="translate(138.89,567.00) scale(0.9339,1)" font-size="39.2" fill="#4052f4" stroke="#4052f4" stroke-width="0.45">Healthy</text>
<text transform="translate(314.01,567.00) scale(0.9434,1)" font-size="39.2" fill="#3ae820" stroke="#3ae820" stroke-width="0.45">Cirrhosis</text>
<text transform="translate(539.14,567.20) scale(0.9551,1)" font-size="39.2" fill="#f80808" stroke="#f80808" stroke-width="0.45">HCC</text>
<text transform="translate(116.61,370.00) scale(0.9986,1)" font-size="27.5" fill="#000" stroke="#000" stroke-width="0.45">4 mm</text>
<text transform="translate(116.60,784.80) scale(0.9910,1)" font-size="27.5" fill="#000" stroke="#000" stroke-width="0.45">4 mm</text>
<text transform="translate(26.07,890.00) scale(1.0104,1)" font-size="52" fill="#000" font-weight="700">(B)</text>
<text transform="translate(330.60,942.20) scale(0.9747,1)" font-size="36.2" fill="#222" stroke="#222" stroke-width="0.45">m/z; Gene Name; Sequence</text>
<text transform="translate(127.04,1552.00) scale(0.9439,1)" font-size="39.2" fill="#000" stroke="#000" stroke-width="0.45">HCC</text>
<text transform="translate(289.96,1550.75) scale(0.9557,1)" font-size="39.0" fill="#000" stroke="#000" stroke-width="0.45">Normal</text>
<text transform="translate(491.89,1548.70) scale(0.9537,1)" font-size="38.8" fill="#000" stroke="#000" stroke-width="0.45">Cirrhosis</text>
<text transform="translate(339.76,75.70) scale(0.9451,1)" font-size="22.8" fill="#262a2a" font-weight="700">0%</text>
<text transform="translate(576.73,75.90) scale(0.9286,1)" font-size="22.8" fill="#262a2a" font-weight="700">100%</text>
<text transform="translate(631.51,27.70) scale(0.9466,1)" font-size="22.8" fill="#262a2a" font-weight="700">927%</text>
<text transform="translate(340.42,503.40) scale(0.9440,1)" font-size="22.8" fill="#262a2a" font-weight="700">0%</text>
<text transform="translate(585.02,504.00) scale(0.9324,1)" font-size="22.8" fill="#262a2a" font-weight="700">100%</text>
<text transform="translate(642.64,454.70) scale(0.8908,1)" font-size="22.8" fill="#262a2a" font-weight="700">1227%</text>
</svg>
</body></html>
